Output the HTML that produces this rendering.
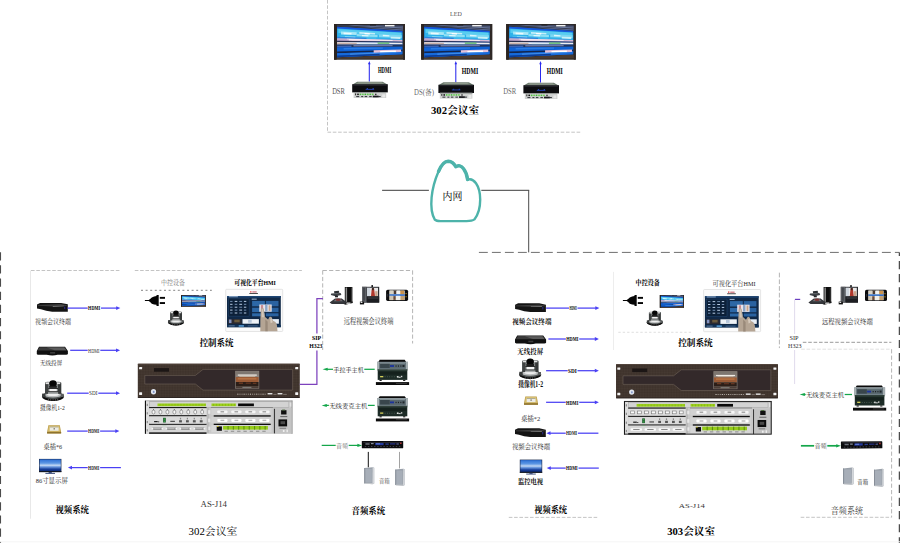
<!DOCTYPE html>
<html><head><meta charset="utf-8"><title>diagram</title><style>html,body{margin:0;padding:0;background:#fff;font-family:"Liberation Sans",sans-serif;}svg{display:block;position:absolute;left:0;top:0}svg text{font-family:"Liberation Serif","Noto Serif CJK SC",serif;fill:#000}</style></head><body><svg width="900" height="543" viewBox="0 0 900 543"><defs><linearGradient id="tvg" x1="0" y1="0" x2="0" y2="1"><stop offset="0" stop-color="#2c6fd6"/><stop offset="0.32" stop-color="#5d97e4"/><stop offset="0.5" stop-color="#c3d8f4"/><stop offset="0.62" stop-color="#6e9be0"/><stop offset="0.82" stop-color="#173f9c"/><stop offset="1" stop-color="#0e2a74"/></linearGradient><pattern id="rackg" width="1.6" height="1.6" patternUnits="userSpaceOnUse"><rect width="1.6" height="1.6" fill="#41352e"/><rect width="0.8" height="0.8" fill="#463a32"/><rect x="0.8" y="0.8" width="0.8" height="0.8" fill="#3d312b"/></pattern></defs><rect x="0" y="0" width="900" height="543" fill="#ffffff" />
<line x1="327.5" y1="0" x2="327.5" y2="132.2" stroke="#bdbdbd" stroke-width="0.9" stroke-dasharray="3.6 1.7" />
<line x1="327.5" y1="132.2" x2="581.7" y2="132.2" stroke="#bdbdbd" stroke-width="0.9" stroke-dasharray="3.6 1.7" />
<text x="450.1" y="15.6" font-size="6.7" textLength="11.7" lengthAdjust="spacingAndGlyphs" opacity="0.7">LED</text>
<g transform="translate(334 24) scale(1 1)">
<rect x="0" y="0" width="71" height="35.7" fill="#2a2521" />
<polygon points="2.5,0.8 69.5,0.8 69.5,7.2 3,2.6" fill="#343a4c" />
<polygon points="20,1.2 69,3.4 69,4.6 14,1.6" fill="#6f7ea6" />
<polygon points="30,1 69,1.9 69,2.8 34,1.5" fill="#56628a" />
<polygon points="38,3.4 69,5.4 69,6.4 30,3.4" fill="#5d6c98" />
<rect x="51" y="0.9" width="9.5" height="1.5" fill="#f4f4f4" />
<rect x="36" y="0.6" width="6" height="0.9" fill="#1c1a18" />
<polygon points="2.5,33.4 69.5,30.4 69.5,34.6 2.5,35" fill="#4a3b30" />
<polygon points="3.1,2.7 68.4,7.1 68.4,30.2 3.1,33.3" fill="#1762d6" />
<polygon points="3.1,2.7 68.4,7.1 68.4,8.49 3.1,4.54" fill="#1656dc" />
<polygon points="3.1,4.54 68.4,8.49 68.4,15.88 3.1,14.33" fill="#2fb2ea" />
<polygon points="4.41,5.22 67.09,8.87 67.09,11.66 4.41,8.88" fill="#59cdf0" />
<polygon points="7.02,7.49 22.69,8.27 22.69,11.11 7.02,10.5" fill="#a9e8f6" />
<polygon points="9.63,8.51 17.47,8.88 17.47,10.62 9.63,10.3" fill="#ecfafd" />
<polygon points="25.3,8.12 40.97,8.93 40.97,10.5 25.3,9.81" fill="#c4eef8" />
<polygon points="30.53,8.94 35.75,9.2 35.75,10.81 30.53,10.59" fill="#ffffff" />
<polygon points="22.69,9.97 43.59,10.88 43.59,13.21 22.69,12.52" fill="#8fe0f4" />
<polygon points="27.91,11.03 34.44,11.29 34.44,12.64 27.91,12.42" fill="#e4f8fc" />
<polygon points="44.89,10.16 67.75,11.23 67.75,14.01 44.89,13.26" fill="#7cd8f2" />
<polygon points="48.81,10.85 55.34,11.14 55.34,12.62 48.81,12.37" fill="#dff6fb" />
<polygon points="56.65,12.66 66.44,13.03 66.44,14.9 56.65,14.62" fill="#c9f0f8" />
<polygon points="6.37,11.69 42.28,12.91 42.28,14.74 6.37,13.8" fill="#48bfec" />
<polygon points="10.94,12.43 21.38,12.77 21.38,13.91 10.94,13.62" fill="#b8ecf8" />
<polygon points="3.1,12.8 32.49,13.66 32.49,15.03 3.1,14.33" fill="#2a86de" />
<polygon points="3.1,14.33 68.4,15.88 68.4,17.73 3.1,16.78" fill="#d8bad4" />
<polygon points="12.9,14.86 58.61,15.89 58.61,17.1 12.9,16.33" fill="#f6eaf0" />
<polygon points="3.1,15.25 14.85,15.48 14.85,16.95 3.1,16.78" fill="#b9a0c8" />
<polygon points="3.1,16.78 68.4,17.73 68.4,18.65 3.1,18" fill="#2a2e4c" />
<polygon points="3.1,18 68.4,18.65 68.4,20.5 3.1,20.45" fill="#efeff2" />
<polygon points="43.59,18.4 55.34,18.52 55.34,19.75 43.59,19.7" fill="#4fb562" />
<polygon points="3.1,18.61 22.69,18.76 22.69,20.46 3.1,20.45" fill="#cbb2aa" />
<polygon points="25.96,19.63 43.59,19.7 43.59,20.48 25.96,20.47" fill="#9fd8ee" />
<polygon points="3.1,20.45 68.4,20.5 68.4,22.81 3.1,23.51" fill="#24365e" />
<polygon points="19.43,21.04 58.61,20.98 58.61,22.19 19.43,22.47" fill="#6a78a6" />
<polygon points="3.1,21.67 17.47,21.62 17.47,23.06 3.1,23.2" fill="#3a64b8" />
<polygon points="3.1,23.51 68.4,22.81 68.4,25.81 3.1,27.49" fill="#0f62d6" />
<polygon points="9.63,24.03 48.81,23.52 48.81,24.79 9.63,25.53" fill="#2a7ce6" />
<polygon points="3.1,27.49 68.4,25.81 68.4,27.2 3.1,29.32" fill="#14264c" />
<polygon points="3.1,29.32 68.4,27.2 68.4,30.2 3.1,33.3" fill="#166ada" />
<polygon points="39.67,26.28 67.09,25.61 67.09,27.94 39.67,28.92" fill="#e4c2da" />
<polygon points="46.2,26.89 61.87,26.46 61.87,27.89 46.2,28.43" fill="#ffffff" />
<polygon points="16.16,29.48 61.87,27.89 61.87,29.08 16.16,30.93" fill="#3a8ae8" />
<polygon points="3.1,31.46 45.55,29.74 45.55,31.28 3.1,33.3" fill="#0b3c96" />
<rect x="0" y="0" width="2.6" height="35.7" fill="#2b2420" />
<rect x="69" y="0" width="2" height="35.7" fill="#2e2826" />
</g>
<g transform="translate(421.2 24) scale(1 1)">
<rect x="0" y="0" width="71" height="35.7" fill="#2a2521" />
<polygon points="2.5,0.8 69.5,0.8 69.5,7.2 3,2.6" fill="#343a4c" />
<polygon points="20,1.2 69,3.4 69,4.6 14,1.6" fill="#6f7ea6" />
<polygon points="30,1 69,1.9 69,2.8 34,1.5" fill="#56628a" />
<polygon points="38,3.4 69,5.4 69,6.4 30,3.4" fill="#5d6c98" />
<rect x="51" y="0.9" width="9.5" height="1.5" fill="#f4f4f4" />
<rect x="36" y="0.6" width="6" height="0.9" fill="#1c1a18" />
<polygon points="2.5,33.4 69.5,30.4 69.5,34.6 2.5,35" fill="#4a3b30" />
<polygon points="3.1,2.7 68.4,7.1 68.4,30.2 3.1,33.3" fill="#1762d6" />
<polygon points="3.1,2.7 68.4,7.1 68.4,8.49 3.1,4.54" fill="#1656dc" />
<polygon points="3.1,4.54 68.4,8.49 68.4,15.88 3.1,14.33" fill="#2fb2ea" />
<polygon points="4.41,5.22 67.09,8.87 67.09,11.66 4.41,8.88" fill="#59cdf0" />
<polygon points="7.02,7.49 22.69,8.27 22.69,11.11 7.02,10.5" fill="#a9e8f6" />
<polygon points="9.63,8.51 17.47,8.88 17.47,10.62 9.63,10.3" fill="#ecfafd" />
<polygon points="25.3,8.12 40.97,8.93 40.97,10.5 25.3,9.81" fill="#c4eef8" />
<polygon points="30.53,8.94 35.75,9.2 35.75,10.81 30.53,10.59" fill="#ffffff" />
<polygon points="22.69,9.97 43.59,10.88 43.59,13.21 22.69,12.52" fill="#8fe0f4" />
<polygon points="27.91,11.03 34.44,11.29 34.44,12.64 27.91,12.42" fill="#e4f8fc" />
<polygon points="44.89,10.16 67.75,11.23 67.75,14.01 44.89,13.26" fill="#7cd8f2" />
<polygon points="48.81,10.85 55.34,11.14 55.34,12.62 48.81,12.37" fill="#dff6fb" />
<polygon points="56.65,12.66 66.44,13.03 66.44,14.9 56.65,14.62" fill="#c9f0f8" />
<polygon points="6.37,11.69 42.28,12.91 42.28,14.74 6.37,13.8" fill="#48bfec" />
<polygon points="10.94,12.43 21.38,12.77 21.38,13.91 10.94,13.62" fill="#b8ecf8" />
<polygon points="3.1,12.8 32.49,13.66 32.49,15.03 3.1,14.33" fill="#2a86de" />
<polygon points="3.1,14.33 68.4,15.88 68.4,17.73 3.1,16.78" fill="#d8bad4" />
<polygon points="12.9,14.86 58.61,15.89 58.61,17.1 12.9,16.33" fill="#f6eaf0" />
<polygon points="3.1,15.25 14.85,15.48 14.85,16.95 3.1,16.78" fill="#b9a0c8" />
<polygon points="3.1,16.78 68.4,17.73 68.4,18.65 3.1,18" fill="#2a2e4c" />
<polygon points="3.1,18 68.4,18.65 68.4,20.5 3.1,20.45" fill="#efeff2" />
<polygon points="43.59,18.4 55.34,18.52 55.34,19.75 43.59,19.7" fill="#4fb562" />
<polygon points="3.1,18.61 22.69,18.76 22.69,20.46 3.1,20.45" fill="#cbb2aa" />
<polygon points="25.96,19.63 43.59,19.7 43.59,20.48 25.96,20.47" fill="#9fd8ee" />
<polygon points="3.1,20.45 68.4,20.5 68.4,22.81 3.1,23.51" fill="#24365e" />
<polygon points="19.43,21.04 58.61,20.98 58.61,22.19 19.43,22.47" fill="#6a78a6" />
<polygon points="3.1,21.67 17.47,21.62 17.47,23.06 3.1,23.2" fill="#3a64b8" />
<polygon points="3.1,23.51 68.4,22.81 68.4,25.81 3.1,27.49" fill="#0f62d6" />
<polygon points="9.63,24.03 48.81,23.52 48.81,24.79 9.63,25.53" fill="#2a7ce6" />
<polygon points="3.1,27.49 68.4,25.81 68.4,27.2 3.1,29.32" fill="#14264c" />
<polygon points="3.1,29.32 68.4,27.2 68.4,30.2 3.1,33.3" fill="#166ada" />
<polygon points="39.67,26.28 67.09,25.61 67.09,27.94 39.67,28.92" fill="#e4c2da" />
<polygon points="46.2,26.89 61.87,26.46 61.87,27.89 46.2,28.43" fill="#ffffff" />
<polygon points="16.16,29.48 61.87,27.89 61.87,29.08 16.16,30.93" fill="#3a8ae8" />
<polygon points="3.1,31.46 45.55,29.74 45.55,31.28 3.1,33.3" fill="#0b3c96" />
<rect x="0" y="0" width="2.6" height="35.7" fill="#2b2420" />
<rect x="69" y="0" width="2" height="35.7" fill="#2e2826" />
</g>
<g transform="translate(506.2 24) scale(0.98 1)">
<rect x="0" y="0" width="71" height="35.7" fill="#2a2521" />
<polygon points="2.5,0.8 69.5,0.8 69.5,7.2 3,2.6" fill="#343a4c" />
<polygon points="20,1.2 69,3.4 69,4.6 14,1.6" fill="#6f7ea6" />
<polygon points="30,1 69,1.9 69,2.8 34,1.5" fill="#56628a" />
<polygon points="38,3.4 69,5.4 69,6.4 30,3.4" fill="#5d6c98" />
<rect x="51" y="0.9" width="9.5" height="1.5" fill="#f4f4f4" />
<rect x="36" y="0.6" width="6" height="0.9" fill="#1c1a18" />
<polygon points="2.5,33.4 69.5,30.4 69.5,34.6 2.5,35" fill="#4a3b30" />
<polygon points="3.1,2.7 68.4,7.1 68.4,30.2 3.1,33.3" fill="#1762d6" />
<polygon points="3.1,2.7 68.4,7.1 68.4,8.49 3.1,4.54" fill="#1656dc" />
<polygon points="3.1,4.54 68.4,8.49 68.4,15.88 3.1,14.33" fill="#2fb2ea" />
<polygon points="4.41,5.22 67.09,8.87 67.09,11.66 4.41,8.88" fill="#59cdf0" />
<polygon points="7.02,7.49 22.69,8.27 22.69,11.11 7.02,10.5" fill="#a9e8f6" />
<polygon points="9.63,8.51 17.47,8.88 17.47,10.62 9.63,10.3" fill="#ecfafd" />
<polygon points="25.3,8.12 40.97,8.93 40.97,10.5 25.3,9.81" fill="#c4eef8" />
<polygon points="30.53,8.94 35.75,9.2 35.75,10.81 30.53,10.59" fill="#ffffff" />
<polygon points="22.69,9.97 43.59,10.88 43.59,13.21 22.69,12.52" fill="#8fe0f4" />
<polygon points="27.91,11.03 34.44,11.29 34.44,12.64 27.91,12.42" fill="#e4f8fc" />
<polygon points="44.89,10.16 67.75,11.23 67.75,14.01 44.89,13.26" fill="#7cd8f2" />
<polygon points="48.81,10.85 55.34,11.14 55.34,12.62 48.81,12.37" fill="#dff6fb" />
<polygon points="56.65,12.66 66.44,13.03 66.44,14.9 56.65,14.62" fill="#c9f0f8" />
<polygon points="6.37,11.69 42.28,12.91 42.28,14.74 6.37,13.8" fill="#48bfec" />
<polygon points="10.94,12.43 21.38,12.77 21.38,13.91 10.94,13.62" fill="#b8ecf8" />
<polygon points="3.1,12.8 32.49,13.66 32.49,15.03 3.1,14.33" fill="#2a86de" />
<polygon points="3.1,14.33 68.4,15.88 68.4,17.73 3.1,16.78" fill="#d8bad4" />
<polygon points="12.9,14.86 58.61,15.89 58.61,17.1 12.9,16.33" fill="#f6eaf0" />
<polygon points="3.1,15.25 14.85,15.48 14.85,16.95 3.1,16.78" fill="#b9a0c8" />
<polygon points="3.1,16.78 68.4,17.73 68.4,18.65 3.1,18" fill="#2a2e4c" />
<polygon points="3.1,18 68.4,18.65 68.4,20.5 3.1,20.45" fill="#efeff2" />
<polygon points="43.59,18.4 55.34,18.52 55.34,19.75 43.59,19.7" fill="#4fb562" />
<polygon points="3.1,18.61 22.69,18.76 22.69,20.46 3.1,20.45" fill="#cbb2aa" />
<polygon points="25.96,19.63 43.59,19.7 43.59,20.48 25.96,20.47" fill="#9fd8ee" />
<polygon points="3.1,20.45 68.4,20.5 68.4,22.81 3.1,23.51" fill="#24365e" />
<polygon points="19.43,21.04 58.61,20.98 58.61,22.19 19.43,22.47" fill="#6a78a6" />
<polygon points="3.1,21.67 17.47,21.62 17.47,23.06 3.1,23.2" fill="#3a64b8" />
<polygon points="3.1,23.51 68.4,22.81 68.4,25.81 3.1,27.49" fill="#0f62d6" />
<polygon points="9.63,24.03 48.81,23.52 48.81,24.79 9.63,25.53" fill="#2a7ce6" />
<polygon points="3.1,27.49 68.4,25.81 68.4,27.2 3.1,29.32" fill="#14264c" />
<polygon points="3.1,29.32 68.4,27.2 68.4,30.2 3.1,33.3" fill="#166ada" />
<polygon points="39.67,26.28 67.09,25.61 67.09,27.94 39.67,28.92" fill="#e4c2da" />
<polygon points="46.2,26.89 61.87,26.46 61.87,27.89 46.2,28.43" fill="#ffffff" />
<polygon points="16.16,29.48 61.87,27.89 61.87,29.08 16.16,30.93" fill="#3a8ae8" />
<polygon points="3.1,31.46 45.55,29.74 45.55,31.28 3.1,33.3" fill="#0b3c96" />
<rect x="0" y="0" width="2.6" height="35.7" fill="#2b2420" />
<rect x="69" y="0" width="2" height="35.7" fill="#2e2826" />
</g>
<line x1="369.3" y1="63" x2="369.3" y2="81.6" stroke="#2a2aee" stroke-width="1.05" />
<polygon points="369.3,61 368.05,64.2 370.55,64.2" fill="#2a2aee" />
<line x1="455.8" y1="63" x2="455.8" y2="82.2" stroke="#2a2aee" stroke-width="1.05" />
<polygon points="455.8,61 454.55,64.2 457.05,64.2" fill="#2a2aee" />
<line x1="540.5" y1="63" x2="540.5" y2="82.6" stroke="#2a2aee" stroke-width="1.05" />
<polygon points="540.5,61 539.25,64.2 541.75,64.2" fill="#2a2aee" />
<text x="377.9" y="72.75" font-size="7.56" font-weight="bold" textLength="13.4" lengthAdjust="spacingAndGlyphs">HDMI</text>
<text x="461.83" y="73.56" font-size="7.33" font-weight="bold" textLength="16.4" lengthAdjust="spacingAndGlyphs">HDMI</text>
<text x="546.82" y="73.56" font-size="7.33" font-weight="bold" textLength="16" lengthAdjust="spacingAndGlyphs">HDMI</text>
<g transform="translate(352.2 81.4)">
<polygon points="5,0.3 30.5,0.3 35.2,3 0.3,3" fill="#6c7a6e" />
<polygon points="6.5,0.9 29,0.9 32,2.4 3.5,2.4" fill="#8f9a8c" />
<rect x="0" y="2.8" width="35.6" height="8.2" fill="#0d0d10" />
<rect x="1" y="3.4" width="33.6" height="0.7" fill="#34343c" />
<rect x="13.4" y="7.5" width="8.6" height="0.9" fill="#2344b8" />
<rect x="14.5" y="6.8" width="1.3" height="0.8" fill="#2c50c8" />
<rect x="20.3" y="6.8" width="1.3" height="0.8" fill="#2c50c8" />
<rect x="1.4" y="10.8" width="32.6" height="5.8" fill="#cfd1d0" />
<rect x="1.4" y="10.8" width="32.6" height="0.8" fill="#8e9290" />
<rect x="5" y="12.2" width="1.6" height="1.5" fill="#111" />
<rect x="7.45" y="12.2" width="1.6" height="1.5" fill="#49c23c" />
<rect x="9.9" y="12.2" width="1.6" height="1.5" fill="#5ed048" />
<rect x="12.35" y="12.2" width="1.6" height="1.5" fill="#3fb83a" />
<rect x="14.8" y="12.2" width="1.6" height="1.5" fill="#5ed048" />
<rect x="17.25" y="12.2" width="1.6" height="1.5" fill="#49c23c" />
<rect x="19.7" y="12.2" width="1.6" height="1.5" fill="#5ed048" />
<rect x="3" y="12" width="0.9" height="1.9" fill="#111" />
<rect x="23" y="12.3" width="1.2" height="1.4" fill="#111" />
<rect x="4" y="14.6" width="3" height="1.1" fill="#3b3d44" />
<rect x="9" y="14.6" width="2" height="1.1" fill="#3b3d44" />
<rect x="12.5" y="14.6" width="2.5" height="1.1" fill="#3b3d44" />
<rect x="17" y="14.6" width="2.5" height="1.1" fill="#3b3d44" />
<rect x="21" y="14.6" width="4" height="1.1" fill="#3b3d44" />
<rect x="26" y="14.6" width="2.5" height="1.1" fill="#3b3d44" />
<rect x="20.6" y="14.3" width="5.8" height="1.6" fill="#1a1a1e" />
<rect x="30" y="13" width="3" height="3" fill="#e9e9e9" />
</g>
<g transform="translate(438.4 82)">
<polygon points="5,0.3 30.5,0.3 35.2,3 0.3,3" fill="#6c7a6e" />
<polygon points="6.5,0.9 29,0.9 32,2.4 3.5,2.4" fill="#8f9a8c" />
<rect x="0" y="2.8" width="35.6" height="8.2" fill="#0d0d10" />
<rect x="1" y="3.4" width="33.6" height="0.7" fill="#34343c" />
<rect x="13.4" y="7.5" width="8.6" height="0.9" fill="#2344b8" />
<rect x="14.5" y="6.8" width="1.3" height="0.8" fill="#2c50c8" />
<rect x="20.3" y="6.8" width="1.3" height="0.8" fill="#2c50c8" />
<rect x="1.4" y="10.8" width="32.6" height="5.8" fill="#cfd1d0" />
<rect x="1.4" y="10.8" width="32.6" height="0.8" fill="#8e9290" />
<rect x="5" y="12.2" width="1.6" height="1.5" fill="#111" />
<rect x="7.45" y="12.2" width="1.6" height="1.5" fill="#49c23c" />
<rect x="9.9" y="12.2" width="1.6" height="1.5" fill="#5ed048" />
<rect x="12.35" y="12.2" width="1.6" height="1.5" fill="#3fb83a" />
<rect x="14.8" y="12.2" width="1.6" height="1.5" fill="#5ed048" />
<rect x="17.25" y="12.2" width="1.6" height="1.5" fill="#49c23c" />
<rect x="19.7" y="12.2" width="1.6" height="1.5" fill="#5ed048" />
<rect x="3" y="12" width="0.9" height="1.9" fill="#111" />
<rect x="23" y="12.3" width="1.2" height="1.4" fill="#111" />
<rect x="4" y="14.6" width="3" height="1.1" fill="#3b3d44" />
<rect x="9" y="14.6" width="2" height="1.1" fill="#3b3d44" />
<rect x="12.5" y="14.6" width="2.5" height="1.1" fill="#3b3d44" />
<rect x="17" y="14.6" width="2.5" height="1.1" fill="#3b3d44" />
<rect x="21" y="14.6" width="4" height="1.1" fill="#3b3d44" />
<rect x="26" y="14.6" width="2.5" height="1.1" fill="#3b3d44" />
<rect x="20.6" y="14.3" width="5.8" height="1.6" fill="#1a1a1e" />
<rect x="30" y="13" width="3" height="3" fill="#e9e9e9" />
</g>
<g transform="translate(523.4 82.4)">
<polygon points="5,0.3 30.5,0.3 35.2,3 0.3,3" fill="#6c7a6e" />
<polygon points="6.5,0.9 29,0.9 32,2.4 3.5,2.4" fill="#8f9a8c" />
<rect x="0" y="2.8" width="35.6" height="8.2" fill="#0d0d10" />
<rect x="1" y="3.4" width="33.6" height="0.7" fill="#34343c" />
<rect x="13.4" y="7.5" width="8.6" height="0.9" fill="#2344b8" />
<rect x="14.5" y="6.8" width="1.3" height="0.8" fill="#2c50c8" />
<rect x="20.3" y="6.8" width="1.3" height="0.8" fill="#2c50c8" />
<rect x="1.4" y="10.8" width="32.6" height="5.8" fill="#cfd1d0" />
<rect x="1.4" y="10.8" width="32.6" height="0.8" fill="#8e9290" />
<rect x="5" y="12.2" width="1.6" height="1.5" fill="#111" />
<rect x="7.45" y="12.2" width="1.6" height="1.5" fill="#49c23c" />
<rect x="9.9" y="12.2" width="1.6" height="1.5" fill="#5ed048" />
<rect x="12.35" y="12.2" width="1.6" height="1.5" fill="#3fb83a" />
<rect x="14.8" y="12.2" width="1.6" height="1.5" fill="#5ed048" />
<rect x="17.25" y="12.2" width="1.6" height="1.5" fill="#49c23c" />
<rect x="19.7" y="12.2" width="1.6" height="1.5" fill="#5ed048" />
<rect x="3" y="12" width="0.9" height="1.9" fill="#111" />
<rect x="23" y="12.3" width="1.2" height="1.4" fill="#111" />
<rect x="4" y="14.6" width="3" height="1.1" fill="#3b3d44" />
<rect x="9" y="14.6" width="2" height="1.1" fill="#3b3d44" />
<rect x="12.5" y="14.6" width="2.5" height="1.1" fill="#3b3d44" />
<rect x="17" y="14.6" width="2.5" height="1.1" fill="#3b3d44" />
<rect x="21" y="14.6" width="4" height="1.1" fill="#3b3d44" />
<rect x="26" y="14.6" width="2.5" height="1.1" fill="#3b3d44" />
<rect x="20.6" y="14.3" width="5.8" height="1.6" fill="#1a1a1e" />
<rect x="30" y="13" width="3" height="3" fill="#e9e9e9" />
</g>
<text x="332.13" y="94.16" font-size="7.33" textLength="12.7" lengthAdjust="spacingAndGlyphs" opacity="0.7">DSR</text>
<text x="414.11" y="94.52" font-size="8" textLength="20" lengthAdjust="spacingAndGlyphs" opacity="0.62">DS(备)</text>
<text x="503.13" y="94.35" font-size="7.56" textLength="13" lengthAdjust="spacingAndGlyphs" opacity="0.62">DSR</text>
<text x="430.96" y="114.37" font-size="10.44" font-weight="bold" textLength="48.2" lengthAdjust="spacingAndGlyphs">302会议室</text>
<line x1="382.1" y1="190.3" x2="428.9" y2="190.3" stroke="#3c3c3c" stroke-width="1" />
<line x1="481.3" y1="190.3" x2="529.2" y2="190.3" stroke="#3c3c3c" stroke-width="1" />
<line x1="528.7" y1="190.3" x2="528.7" y2="252.4" stroke="#4a4a4a" stroke-width="1" />
<path d="M434.8,219.6 C431.5,214 430.9,205 431.6,197.5 C432.4,189 435,179.5 438.5,171.5 C441,165.5 444.2,161.2 448.2,161.2 C451.6,161.3 454,163.2 455.8,166.8 C458.2,164.8 461.4,165.6 463.4,168.4 C465.8,171.6 467.2,175.2 467.6,179.6 C470.2,178.6 473.6,179.8 476,183.2 C478.8,187.2 480.2,193.4 480.2,199.6 C480.2,207.2 478.4,214.6 474.4,219.4 C472.6,220.8 470,221.1 466.5,221.1 L440.5,221.1 C438,221.1 436,220.8 434.8,219.6 Z" fill="#ffffff" stroke="#4db3aa" stroke-width="2.4" stroke-linejoin="round"/>
<path d="M438.5,171.5 C441,165.5 444.2,161.2 448.2,161.2 C451.6,161.3 454,163.2 455.8,166.8 C458.2,164.8 461.4,165.6 463.4,168.4 C465.8,171.6 467.2,175.2 467.6,179.6" fill="none" stroke="#4db3aa" stroke-width="3.4" stroke-linejoin="round" stroke-linecap="round"/>
<text x="442.6" y="200.17" font-size="10.44" textLength="19.9" lengthAdjust="spacingAndGlyphs">内网</text>
<line x1="478.9" y1="252.4" x2="899.5" y2="252.4" stroke="#6e6e6e" stroke-width="1" stroke-dasharray="8.9 4.1" />
<line x1="0.5" y1="252.2" x2="0.5" y2="543" stroke="#4c4c4c" stroke-width="1.1" stroke-dasharray="8.2 4.96" />
<line x1="899.4" y1="252.4" x2="899.4" y2="543" stroke="#4c4c4c" stroke-width="1.3" stroke-dasharray="8.2 4.96" stroke-dashoffset="4.6"/>
<line x1="0" y1="541.8" x2="900" y2="541.8" stroke="#f6f6f6" stroke-width="1" />
<line x1="31" y1="270.5" x2="120" y2="270.5" stroke="#bdbdbd" stroke-width="0.9" stroke-dasharray="3.6 1.7" />
<line x1="30.5" y1="270.5" x2="30.5" y2="518.7" stroke="#e8e8e8" stroke-width="1" />
<g transform="translate(36.8 302.8)">
<path d="M0.2,1.6 L3.2,0.1 L24.4,0.1 L31,1.5 L31,8.9 L15.4,8.9 Q9,8.2 4.2,6.5 L0.2,5.7 Z" fill="#141414" />
<path d="M1,2.2 L24,1.2 L30,2.4 L30,3.1 L16,3.6 L1,3 Z" fill="#3c3c3c" />
<path d="M16,3.3 L27,2.9 L27,3.5 L16,3.9Z" fill="#8a8a8a" />
<rect x="27.5" y="3.8" width="0.9" height="2.4" fill="#2b2b98" />
</g>
<line x1="67.6" y1="308.1" x2="87.7" y2="308.1" stroke="#4a40f4" stroke-width="1.25" />
<line x1="100.9" y1="308.1" x2="117.64" y2="308.1" stroke="#4a40f4" stroke-width="1.25" />
<text x="88.09" y="310.33" font-size="6.22" font-weight="bold" textLength="12" lengthAdjust="spacingAndGlyphs">HDMI</text>
<polygon points="120.3,308.1 116.2,306.2 116.2,310" fill="#4a40f4" />
<text x="35" y="323.79" font-size="6.89" textLength="36.1" lengthAdjust="spacingAndGlyphs" opacity="0.86">视频会议终端</text>
<g transform="translate(36.6 346.7)">
<path d="M2.4,0.1 L28.4,0.1 L31.3,4.2 L31.3,7.3 Q31,8 29.5,8 L21,8 Q16,9.6 10,8 L1.6,8 Q0.2,8 0.2,7.2 L0.2,4.2 Z" fill="#101010" />
<path d="M3,0.6 L28,0.6 L30.3,3.9 L1,3.9 Z" fill="#3a3a3a" />
<path d="M10,0.8 L27.6,0.8 L29.6,3.5 L18,3.5 Z" fill="#5a5a5a" />
<rect x="13.5" y="5.3" width="5" height="1.6" fill="#3a3a3a" />
</g>
<line x1="70.2" y1="350.3" x2="87.7" y2="350.3" stroke="#4a40f4" stroke-width="1.25" />
<line x1="100.3" y1="350.3" x2="117.44" y2="350.3" stroke="#4a40f4" stroke-width="1.25" />
<text x="88.09" y="352.53" font-size="6.22" textLength="11.4" lengthAdjust="spacingAndGlyphs" opacity="0.85">HDMI</text>
<polygon points="120.1,350.3 116,348.4 116,352.2" fill="#4a40f4" />
<text x="40" y="364.83" font-size="6.22" textLength="22.2" lengthAdjust="spacingAndGlyphs" opacity="0.86">无线投屏</text>
<g transform="translate(41.8 380.2) scale(1)">
<ellipse cx="11.2" cy="16.4" rx="11.1" ry="4.3" fill="#161616" />
<ellipse cx="11.2" cy="15.3" rx="10.8" ry="3.5" fill="#4e5252" />
<ellipse cx="11.2" cy="14.9" rx="8.6" ry="2.5" fill="#b9bcbc" />
<ellipse cx="11.2" cy="14.4" rx="6" ry="1.5" fill="#eeeeee" />
<path d="M1.0,16.4 Q11.2,22.4 21.4,16.4 L21.4,17.6 Q11.2,24 1.0,17.6Z" fill="#0c0c0c" />
<rect x="6.2" y="19.3" width="0.9" height="0.8" fill="#9a9a9a" />
<rect x="8.5" y="19.3" width="0.9" height="0.8" fill="#9a9a9a" />
<rect x="10.8" y="19.3" width="0.9" height="0.8" fill="#9a9a9a" />
<rect x="13.1" y="19.3" width="0.9" height="0.8" fill="#9a9a9a" />
<rect x="15.4" y="19.3" width="0.9" height="0.8" fill="#9a9a9a" />
<rect x="0.3" y="13.4" width="3.4" height="3.6" fill="#3a3d3d" />
<rect x="18.8" y="13.6" width="3.2" height="3.2" fill="#5a5d5d" />
<path d="M3.2,3.4 Q3.2,1.6 5.2,1.6 L17.4,1.6 Q19.4,1.6 19.4,3.4 L19.4,13.6 L3.2,13.6 Z" fill="#7c8080" />
<rect x="3.2" y="2.4" width="3.2" height="11.2" fill="#3f4242" />
<rect x="16.2" y="2.4" width="3.2" height="11.2" fill="#363939" />
<rect x="3.8" y="2.2" width="3.4" height="1.7" fill="#e2e2e2" />
<rect x="14.8" y="2.2" width="3.6" height="1.7" fill="#e2e2e2" />
<ellipse cx="11.2" cy="3.4" rx="3.7" ry="3.4" fill="#060606" />
<rect x="7.4" y="5.6" width="7.6" height="2" fill="#1c1c1c" />
<rect x="7.6" y="8.6" width="7.4" height="2.6" fill="#f4f4f4" />
<rect x="6.4" y="7.8" width="9.8" height="0.8" fill="#161616" />
<rect x="6.4" y="11.2" width="9.8" height="0.8" fill="#161616" />
<rect x="6.2" y="12.2" width="10.2" height="1.5" fill="#a9acac" />
</g>
<line x1="67.2" y1="393.2" x2="88.7" y2="393.2" stroke="#4a40f4" stroke-width="1.25" />
<line x1="98.3" y1="393.2" x2="117.44" y2="393.2" stroke="#4a40f4" stroke-width="1.25" />
<text x="89.09" y="395.43" font-size="6.22" textLength="8.4" lengthAdjust="spacingAndGlyphs" opacity="0.85">SDI</text>
<polygon points="120.1,393.2 116,391.3 116,395.1" fill="#4a40f4" />
<text x="40" y="409.6" font-size="6.67" textLength="24.8" lengthAdjust="spacingAndGlyphs" opacity="0.86">摄像机1-2</text>
<g transform="translate(47 424.9)">
<path d="M1.4,0.4 L12.8,0.4 L14.1,7.4 L14.1,8.5 L0.1,8.5 L0.1,7.4 Z" fill="#b89a48" />
<path d="M1.8,0.9 L12.4,0.9 L13.2,6.6 L1,6.6 Z" fill="#d9c070" />
<rect x="2.8" y="1.8" width="8.8" height="4.1" fill="#ecebe4" />
<rect x="2.8" y="1.8" width="8.8" height="0.6" fill="#8c845c" />
<rect x="6.6" y="3.2" width="1.2" height="1.4" fill="#6f6a58" />
<rect x="0.1" y="7.2" width="14" height="1.3" fill="#8a6f2c" />
</g>
<line x1="67.2" y1="431.1" x2="87.7" y2="431.1" stroke="#4a40f4" stroke-width="1.25" />
<line x1="100.1" y1="431.1" x2="116.74" y2="431.1" stroke="#4a40f4" stroke-width="1.25" />
<text x="88.09" y="433.33" font-size="6.22" font-weight="bold" textLength="11.2" lengthAdjust="spacingAndGlyphs" opacity="0.9">HDMI</text>
<polygon points="119.4,431.1 115.3,429.2 115.3,433" fill="#4a40f4" />
<text x="43.6" y="449.01" font-size="6.44" textLength="18.5" lengthAdjust="spacingAndGlyphs" opacity="0.86">桌插*6</text>
<g transform="translate(39 458.9)">
<rect x="0" y="0" width="22.4" height="13.2" fill="#1b2a4a" />
<rect x="0.6" y="0.5" width="21.2" height="11.9" fill="url(#tvg)" />
<rect x="0" y="12.2" width="22.4" height="1" fill="#15181f" />
<rect x="9.6" y="13.2" width="3.2" height="1" fill="#2c3f73" />
<rect x="6.4" y="14" width="9.6" height="0.9" fill="#2a3d6e" />
</g>
<line x1="70.56" y1="467.6" x2="87.7" y2="467.6" stroke="#4a40f4" stroke-width="1.25" />
<line x1="100.1" y1="467.6" x2="120.9" y2="467.6" stroke="#4a40f4" stroke-width="1.25" />
<text x="88.09" y="469.83" font-size="6.22" font-weight="bold" textLength="11.2" lengthAdjust="spacingAndGlyphs" opacity="0.9">HDMI</text>
<polygon points="67.9,467.6 72,465.7 72,469.5" fill="#4a40f4" />
<text x="35.7" y="483.4" font-size="6.67" textLength="32.2" lengthAdjust="spacingAndGlyphs" opacity="0.86">86寸显示屏</text>
<text x="55.5" y="513.03" font-size="9.56" font-weight="bold" textLength="33.4" lengthAdjust="spacingAndGlyphs">视频系统</text>
<line x1="134.8" y1="270.5" x2="301.9" y2="270.5" stroke="#bdbdbd" stroke-width="0.9" stroke-dasharray="3.6 1.7" />
<text x="161" y="284.81" font-size="6.44" textLength="24" lengthAdjust="spacingAndGlyphs" opacity="0.55">中控设备</text>
<line x1="141" y1="290.3" x2="211.8" y2="290.3" stroke="#666666" stroke-width="0.8" stroke-dasharray="2.0 2.6" />
<g transform="translate(144.9 295)">
<path d="M0,4.9 L3.8,4.9 L5.2,4.0 Q6.6,2.0 9.2,1.5 L11.6,1.1 L11.6,0 L13.8,0 L13.8,10.9 L11.6,10.9 L11.6,9.8 L9.2,9.4 Q6.6,8.9 5.2,6.9 L3.8,6.1 L0,6.1 Z" fill="#050505" />
<rect x="14.9" y="1.9" width="5.2" height="1.9" fill="#050505" />
<rect x="14.9" y="7.1" width="5.2" height="1.9" fill="#050505" />
</g>
<g transform="translate(181 295) scale(0.35 0.33)">
<rect x="0" y="0" width="71" height="35.7" fill="#2a2521" />
<polygon points="2.5,0.8 69.5,0.8 69.5,7.2 3,2.6" fill="#343a4c" />
<polygon points="20,1.2 69,3.4 69,4.6 14,1.6" fill="#6f7ea6" />
<polygon points="30,1 69,1.9 69,2.8 34,1.5" fill="#56628a" />
<polygon points="38,3.4 69,5.4 69,6.4 30,3.4" fill="#5d6c98" />
<rect x="51" y="0.9" width="9.5" height="1.5" fill="#f4f4f4" />
<rect x="36" y="0.6" width="6" height="0.9" fill="#1c1a18" />
<polygon points="2.5,33.4 69.5,30.4 69.5,34.6 2.5,35" fill="#4a3b30" />
<polygon points="3.1,2.7 68.4,7.1 68.4,30.2 3.1,33.3" fill="#1762d6" />
<polygon points="3.1,2.7 68.4,7.1 68.4,8.49 3.1,4.54" fill="#1656dc" />
<polygon points="3.1,4.54 68.4,8.49 68.4,15.88 3.1,14.33" fill="#2fb2ea" />
<polygon points="4.41,5.22 67.09,8.87 67.09,11.66 4.41,8.88" fill="#59cdf0" />
<polygon points="7.02,7.49 22.69,8.27 22.69,11.11 7.02,10.5" fill="#a9e8f6" />
<polygon points="9.63,8.51 17.47,8.88 17.47,10.62 9.63,10.3" fill="#ecfafd" />
<polygon points="25.3,8.12 40.97,8.93 40.97,10.5 25.3,9.81" fill="#c4eef8" />
<polygon points="30.53,8.94 35.75,9.2 35.75,10.81 30.53,10.59" fill="#ffffff" />
<polygon points="22.69,9.97 43.59,10.88 43.59,13.21 22.69,12.52" fill="#8fe0f4" />
<polygon points="27.91,11.03 34.44,11.29 34.44,12.64 27.91,12.42" fill="#e4f8fc" />
<polygon points="44.89,10.16 67.75,11.23 67.75,14.01 44.89,13.26" fill="#7cd8f2" />
<polygon points="48.81,10.85 55.34,11.14 55.34,12.62 48.81,12.37" fill="#dff6fb" />
<polygon points="56.65,12.66 66.44,13.03 66.44,14.9 56.65,14.62" fill="#c9f0f8" />
<polygon points="6.37,11.69 42.28,12.91 42.28,14.74 6.37,13.8" fill="#48bfec" />
<polygon points="10.94,12.43 21.38,12.77 21.38,13.91 10.94,13.62" fill="#b8ecf8" />
<polygon points="3.1,12.8 32.49,13.66 32.49,15.03 3.1,14.33" fill="#2a86de" />
<polygon points="3.1,14.33 68.4,15.88 68.4,17.73 3.1,16.78" fill="#d8bad4" />
<polygon points="12.9,14.86 58.61,15.89 58.61,17.1 12.9,16.33" fill="#f6eaf0" />
<polygon points="3.1,15.25 14.85,15.48 14.85,16.95 3.1,16.78" fill="#b9a0c8" />
<polygon points="3.1,16.78 68.4,17.73 68.4,18.65 3.1,18" fill="#2a2e4c" />
<polygon points="3.1,18 68.4,18.65 68.4,20.5 3.1,20.45" fill="#efeff2" />
<polygon points="43.59,18.4 55.34,18.52 55.34,19.75 43.59,19.7" fill="#4fb562" />
<polygon points="3.1,18.61 22.69,18.76 22.69,20.46 3.1,20.45" fill="#cbb2aa" />
<polygon points="25.96,19.63 43.59,19.7 43.59,20.48 25.96,20.47" fill="#9fd8ee" />
<polygon points="3.1,20.45 68.4,20.5 68.4,22.81 3.1,23.51" fill="#24365e" />
<polygon points="19.43,21.04 58.61,20.98 58.61,22.19 19.43,22.47" fill="#6a78a6" />
<polygon points="3.1,21.67 17.47,21.62 17.47,23.06 3.1,23.2" fill="#3a64b8" />
<polygon points="3.1,23.51 68.4,22.81 68.4,25.81 3.1,27.49" fill="#0f62d6" />
<polygon points="9.63,24.03 48.81,23.52 48.81,24.79 9.63,25.53" fill="#2a7ce6" />
<polygon points="3.1,27.49 68.4,25.81 68.4,27.2 3.1,29.32" fill="#14264c" />
<polygon points="3.1,29.32 68.4,27.2 68.4,30.2 3.1,33.3" fill="#166ada" />
<polygon points="39.67,26.28 67.09,25.61 67.09,27.94 39.67,28.92" fill="#e4c2da" />
<polygon points="46.2,26.89 61.87,26.46 61.87,27.89 46.2,28.43" fill="#ffffff" />
<polygon points="16.16,29.48 61.87,27.89 61.87,29.08 16.16,30.93" fill="#3a8ae8" />
<polygon points="3.1,31.46 45.55,29.74 45.55,31.28 3.1,33.3" fill="#0b3c96" />
<rect x="0" y="0" width="2.6" height="35.7" fill="#2b2420" />
<rect x="69" y="0" width="2" height="35.7" fill="#2e2826" />
</g>
<g transform="translate(167.8 310.4) scale(0.73)">
<ellipse cx="11.2" cy="16.4" rx="11.1" ry="4.3" fill="#161616" />
<ellipse cx="11.2" cy="15.3" rx="10.8" ry="3.5" fill="#4e5252" />
<ellipse cx="11.2" cy="14.9" rx="8.6" ry="2.5" fill="#b9bcbc" />
<ellipse cx="11.2" cy="14.4" rx="6" ry="1.5" fill="#eeeeee" />
<path d="M1.0,16.4 Q11.2,22.4 21.4,16.4 L21.4,17.6 Q11.2,24 1.0,17.6Z" fill="#0c0c0c" />
<rect x="6.2" y="19.3" width="0.9" height="0.8" fill="#9a9a9a" />
<rect x="8.5" y="19.3" width="0.9" height="0.8" fill="#9a9a9a" />
<rect x="10.8" y="19.3" width="0.9" height="0.8" fill="#9a9a9a" />
<rect x="13.1" y="19.3" width="0.9" height="0.8" fill="#9a9a9a" />
<rect x="15.4" y="19.3" width="0.9" height="0.8" fill="#9a9a9a" />
<rect x="0.3" y="13.4" width="3.4" height="3.6" fill="#3a3d3d" />
<rect x="18.8" y="13.6" width="3.2" height="3.2" fill="#5a5d5d" />
<path d="M3.2,3.4 Q3.2,1.6 5.2,1.6 L17.4,1.6 Q19.4,1.6 19.4,3.4 L19.4,13.6 L3.2,13.6 Z" fill="#7c8080" />
<rect x="3.2" y="2.4" width="3.2" height="11.2" fill="#3f4242" />
<rect x="16.2" y="2.4" width="3.2" height="11.2" fill="#363939" />
<rect x="3.8" y="2.2" width="3.4" height="1.7" fill="#e2e2e2" />
<rect x="14.8" y="2.2" width="3.6" height="1.7" fill="#e2e2e2" />
<ellipse cx="11.2" cy="3.4" rx="3.7" ry="3.4" fill="#060606" />
<rect x="7.4" y="5.6" width="7.6" height="2" fill="#1c1c1c" />
<rect x="7.6" y="8.6" width="7.4" height="2.6" fill="#f4f4f4" />
<rect x="6.4" y="7.8" width="9.8" height="0.8" fill="#161616" />
<rect x="6.4" y="11.2" width="9.8" height="0.8" fill="#161616" />
<rect x="6.2" y="12.2" width="10.2" height="1.5" fill="#a9acac" />
</g>
<text x="234.3" y="285.39" font-size="6.89" font-weight="bold" textLength="41.5" lengthAdjust="spacingAndGlyphs">可视化平台HMI</text>
<g transform="translate(225.7 289.3)">
<rect x="0" y="0" width="57" height="42.2" fill="#fbfbfb" stroke="#d5d5d5" stroke-width="0.6" rx="0.8"/>
<rect x="24.4" y="2" width="1.4" height="1.2" fill="#e03030" />
<rect x="26.6" y="2.2" width="4.4" height="0.9" fill="#c04050" />
<rect x="23.6" y="3.8" width="8.6" height="0.9" fill="#3a3a3a" />
<rect x="1.3" y="6.7" width="53.8" height="31.2" fill="#102846" />
<rect x="1.3" y="6.7" width="53.8" height="1.6" fill="#1c4472" />
<rect x="3.2" y="7" width="9" height="0.9" fill="#9fb8d6" />
<rect x="2.8" y="9.6" width="20.6" height="17.2" fill="#0c2038" stroke="#28507c" stroke-width="0.4"/>
<rect x="4.4" y="11.6" width="2.4" height="1" fill="#6f8cb0" />
<rect x="9" y="11.6" width="2.6" height="1" fill="#b8cbe2" />
<rect x="13.6" y="11.6" width="2.8" height="1" fill="#6f8cb0" />
<rect x="18.2" y="11.6" width="2.4" height="1" fill="#b8cbe2" />
<rect x="4.4" y="14.5" width="2.4" height="1" fill="#b8cbe2" />
<rect x="9" y="14.5" width="2.6" height="1" fill="#6f8cb0" />
<rect x="13.6" y="14.5" width="2.8" height="1" fill="#b8cbe2" />
<rect x="18.2" y="14.5" width="2.4" height="1" fill="#6f8cb0" />
<rect x="4.4" y="17.4" width="2.4" height="1" fill="#6f8cb0" />
<rect x="9" y="17.4" width="2.6" height="1" fill="#b8cbe2" />
<rect x="13.6" y="17.4" width="2.8" height="1" fill="#6f8cb0" />
<rect x="18.2" y="17.4" width="2.4" height="1" fill="#b8cbe2" />
<rect x="4.4" y="20.3" width="2.4" height="1" fill="#b8cbe2" />
<rect x="9" y="20.3" width="2.6" height="1" fill="#6f8cb0" />
<rect x="13.6" y="20.3" width="2.8" height="1" fill="#b8cbe2" />
<rect x="18.2" y="20.3" width="2.4" height="1" fill="#6f8cb0" />
<rect x="4.4" y="23.2" width="2.4" height="1" fill="#6f8cb0" />
<rect x="9" y="23.2" width="2.6" height="1" fill="#b8cbe2" />
<rect x="13.6" y="23.2" width="2.8" height="1" fill="#6f8cb0" />
<rect x="18.2" y="23.2" width="2.4" height="1" fill="#b8cbe2" />
<rect x="26.4" y="11.6" width="12.8" height="5.4" fill="#2d68a6" />
<rect x="40.2" y="11.6" width="12.6" height="5.4" fill="#2a62a0" />
<rect x="26.4" y="18.4" width="12.8" height="4.4" fill="#2d68a6" />
<rect x="40.2" y="18.4" width="12.6" height="4.4" fill="#2a62a0" />
<rect x="26.4" y="24" width="12.8" height="3" fill="#2d68a6" />
<rect x="40.2" y="24" width="12.6" height="3" fill="#2a62a0" />
<rect x="26" y="9.4" width="5" height="0.9" fill="#b9cde4" />
<rect x="33.6" y="15.2" width="12.4" height="7.2" fill="#e9e4ea" />
<rect x="35.2" y="15.8" width="2.2" height="6" fill="#c98a90" />
<rect x="39.4" y="15.6" width="2.4" height="6.4" fill="#8aa6c8" />
<rect x="43" y="16" width="1.8" height="5.6" fill="#c7a58a" />
<rect x="2.6" y="29.8" width="13.4" height="4.8" fill="#2b2a30" />
<rect x="3.2" y="30.2" width="2.6" height="3.6" fill="#8494c2" />
<rect x="8.6" y="30.4" width="5.4" height="2.6" fill="#6a5a3c" />
<rect x="16.8" y="29.8" width="16.4" height="4.6" fill="#eef2f6" />
<rect x="22.4" y="30.4" width="3.6" height="3" fill="#b6c6da" />
<rect x="45.2" y="29.8" width="8" height="4.6" fill="#e8eef6" />
<rect x="1.3" y="35.6" width="53.8" height="2.3" fill="#123256" />
<rect x="13" y="35.9" width="5.2" height="1.5" fill="#5aa0d8" />
<rect x="3" y="36.2" width="6" height="0.8" fill="#6f8cb0" />
<rect x="22" y="36.2" width="10" height="0.8" fill="#4e6e96" />
<path d="M35.2,19.6 Q36.6,17.4 38,19.4 L39.4,27.6 L42.4,30.2 L43.8,27.8 Q45,26.8 46,28 L47.4,31.4 Q50.2,32 51.2,35.4 L51.8,42 L34.6,42 L34.6,31 Z" fill="#b5a594" />
<path d="M36,20.4 Q36.7,19 37.4,20.4 L38.4,28 L36,28 Z" fill="#d2c6b8" />
<path d="M39.6,30 L42,32.4 L42,42 L39.6,42 Z" fill="#9a8a7a" />
<path d="M44.4,30 L46,29 L47,33 L45,34 Z" fill="#d6cabc" />
</g>
<text x="199.7" y="345.64" font-size="9.33" font-weight="bold" textLength="33.7" lengthAdjust="spacingAndGlyphs">控制系统</text>
<g transform="translate(137.8 363.7) scale(1 1)">
<rect x="0" y="0" width="162" height="34.2" fill="url(#rackg)" rx="0.8"/>
<path d="M7,11.7 L57.6,11.7 L65.2,5.7 L154.8,5.7 L154.8,26.4 L65.2,26.4 L57.6,20.3 L7,20.3 Z" fill="#33292a" stroke="#74665c" stroke-width="0.55" />
<rect x="0" y="0" width="162" height="0.7" fill="#5a4b42" />
<rect x="0" y="33.4" width="162" height="0.8" fill="#2a2220" />
<rect x="1.3" y="3.3" width="3" height="2.3" fill="#f4f4f4" rx="0.4"/>
<rect x="1.3" y="28.6" width="3" height="2.6" fill="#f4f4f4" rx="0.4"/>
<rect x="157.4" y="3.3" width="3" height="2.3" fill="#f4f4f4" rx="0.4"/>
<rect x="157.4" y="28.6" width="3" height="2.6" fill="#f4f4f4" rx="0.4"/>
<rect x="16.2" y="4.4" width="15" height="3.6" fill="#1c1615" />
<ellipse cx="15.7" cy="28" rx="2.6" ry="2.7" fill="#dfe4ee" />
<ellipse cx="15.9" cy="28.2" rx="0.9" ry="1.1" fill="#7f93c8" />
<rect x="97.4" y="7.1" width="24" height="17.9" fill="#8c837c" />
<rect x="98" y="7.6" width="22.8" height="3.2" fill="#7d7670" />
<rect x="100" y="10.8" width="19" height="1.2" fill="#f0ece6" />
<rect x="101.5" y="12.2" width="16" height="0.9" fill="#c9b7a6" />
<rect x="98" y="13.3" width="22.8" height="5" fill="#9a5a36" />
<rect x="100" y="14.2" width="18.6" height="1.6" fill="#b57244" />
<rect x="98" y="18.3" width="22.8" height="4.1" fill="#2c1e18" />
<rect x="101" y="18.8" width="4.2" height="1.4" fill="#6a3a24" />
<rect x="108" y="18.8" width="5" height="1.4" fill="#5a3020" />
<rect x="115" y="19" width="3.6" height="1.2" fill="#6a3a24" />
<rect x="98" y="22.4" width="22.8" height="2.2" fill="#4a3c36" />
<rect x="104.6" y="23.2" width="9" height="0.9" fill="#8c8a88" />
<rect x="99.5" y="30" width="1.1" height="0.9" fill="#d9d4ce" />
<rect x="101.6" y="30" width="1.1" height="0.9" fill="#a9a19a" />
<rect x="103.7" y="30" width="1.1" height="0.9" fill="#a9a19a" />
<rect x="105.8" y="30" width="1.1" height="0.9" fill="#d9d4ce" />
<rect x="107.9" y="30" width="1.1" height="0.9" fill="#a9a19a" />
<rect x="110" y="30" width="1.1" height="0.9" fill="#a9a19a" />
<rect x="112.1" y="30" width="1.1" height="0.9" fill="#d9d4ce" />
<rect x="114.2" y="30" width="1.1" height="0.9" fill="#a9a19a" />
<rect x="116.3" y="30" width="1.1" height="0.9" fill="#a9a19a" />
<rect x="118.4" y="30" width="1.1" height="0.9" fill="#d9d4ce" />
<rect x="120.5" y="30" width="1.1" height="0.9" fill="#a9a19a" />
<rect x="122.6" y="30" width="1.1" height="0.9" fill="#a9a19a" />
<rect x="124.7" y="30" width="1.1" height="0.9" fill="#d9d4ce" />
<rect x="126.8" y="30" width="1.1" height="0.9" fill="#a9a19a" />
<rect x="129.8" y="29.4" width="4.8" height="1.3" fill="#f1f1f1" />
<rect x="139.8" y="29.4" width="4.8" height="1.3" fill="#f1f1f1" />
<rect x="135.6" y="30.2" width="3.2" height="0.8" fill="#8a827c" />
<rect x="145.4" y="30.2" width="3.6" height="0.8" fill="#8a827c" />
</g>
<g transform="translate(144.9 400.6) scale(1 1)">
<rect x="0" y="0" width="147.6" height="33.2" fill="#c9c9c9" />
<rect x="0" y="0" width="1.1" height="33.2" fill="#101010" />
<rect x="1.1" y="0" width="146.5" height="0.7" fill="#8d8d8d" />
<rect x="146.6" y="0" width="1" height="33.2" fill="#9a9a9a" />
<rect x="1.1" y="0.7" width="3.4" height="32" fill="#dcdcdc" />
<rect x="1.8" y="3.2" width="1.2" height="2.2" fill="#8e8e8e" />
<rect x="1.8" y="11.6" width="1.2" height="2.2" fill="#8e8e8e" />
<rect x="1.8" y="20.4" width="1.2" height="2.2" fill="#8e8e8e" />
<rect x="1.8" y="28.6" width="1.2" height="2.2" fill="#8e8e8e" />
<rect x="4.6" y="1.2" width="139.4" height="5.4" fill="#d3d3d3" stroke="#9c9c9c" stroke-width="0.4"/>
<rect x="12.6" y="2.9" width="48.4" height="2.7" fill="#9bcf1c" />
<rect x="14.8" y="3.3" width="0.6" height="1.9" fill="#7eb010" />
<rect x="17.8" y="3.3" width="0.6" height="1.9" fill="#7eb010" />
<rect x="20.8" y="3.3" width="0.6" height="1.9" fill="#7eb010" />
<rect x="23.8" y="3.3" width="0.6" height="1.9" fill="#7eb010" />
<rect x="26.8" y="3.3" width="0.6" height="1.9" fill="#7eb010" />
<rect x="29.8" y="3.3" width="0.6" height="1.9" fill="#7eb010" />
<rect x="32.8" y="3.3" width="0.6" height="1.9" fill="#7eb010" />
<rect x="35.8" y="3.3" width="0.6" height="1.9" fill="#7eb010" />
<rect x="38.8" y="3.3" width="0.6" height="1.9" fill="#7eb010" />
<rect x="41.8" y="3.3" width="0.6" height="1.9" fill="#7eb010" />
<rect x="44.8" y="3.3" width="0.6" height="1.9" fill="#7eb010" />
<rect x="47.8" y="3.3" width="0.6" height="1.9" fill="#7eb010" />
<rect x="50.8" y="3.3" width="0.6" height="1.9" fill="#7eb010" />
<rect x="53.8" y="3.3" width="0.6" height="1.9" fill="#7eb010" />
<rect x="56.8" y="3.3" width="0.6" height="1.9" fill="#7eb010" />
<rect x="59.8" y="3.3" width="0.6" height="1.9" fill="#7eb010" />
<rect x="66.6" y="2.9" width="24.4" height="2.7" fill="#9bcf1c" />
<rect x="68.4" y="3.3" width="0.6" height="1.9" fill="#7eb010" />
<rect x="71.4" y="3.3" width="0.6" height="1.9" fill="#7eb010" />
<rect x="74.4" y="3.3" width="0.6" height="1.9" fill="#7eb010" />
<rect x="77.4" y="3.3" width="0.6" height="1.9" fill="#7eb010" />
<rect x="80.4" y="3.3" width="0.6" height="1.9" fill="#7eb010" />
<rect x="83.4" y="3.3" width="0.6" height="1.9" fill="#7eb010" />
<rect x="86.4" y="3.3" width="0.6" height="1.9" fill="#7eb010" />
<rect x="89.4" y="3.3" width="0.6" height="1.9" fill="#7eb010" />
<rect x="93.2" y="2.9" width="15.8" height="2.7" fill="#0a0a0a" />
<rect x="4.2" y="6.5" width="57.4" height="1.1" fill="#0e0e0e" />
<rect x="4.2" y="14.6" width="57.4" height="1.1" fill="#0e0e0e" />
<rect x="4.2" y="23.1" width="57.4" height="1.1" fill="#0e0e0e" />
<rect x="4.2" y="31.8" width="57.4" height="1.4" fill="#0e0e0e" />
<rect x="4.6" y="7.8" width="57" height="6.6" fill="#dedede" />
<ellipse cx="8.6" cy="11.4" rx="1.5" ry="2" fill="#f8f8f8" stroke="#666" stroke-width="0.55"/>
<rect x="8.1" y="8.4" width="1" height="1.2" fill="#777" />
<ellipse cx="15.55" cy="11.4" rx="1.5" ry="2" fill="#f8f8f8" stroke="#666" stroke-width="0.55"/>
<rect x="15.05" y="8.4" width="1" height="1.2" fill="#777" />
<ellipse cx="22.5" cy="11.4" rx="1.5" ry="2" fill="#f8f8f8" stroke="#666" stroke-width="0.55"/>
<rect x="22" y="8.4" width="1" height="1.2" fill="#777" />
<ellipse cx="29.45" cy="11.4" rx="1.5" ry="2" fill="#f8f8f8" stroke="#666" stroke-width="0.55"/>
<rect x="28.95" y="8.4" width="1" height="1.2" fill="#777" />
<ellipse cx="36.4" cy="11.4" rx="1.5" ry="2" fill="#f8f8f8" stroke="#666" stroke-width="0.55"/>
<rect x="35.9" y="8.4" width="1" height="1.2" fill="#777" />
<ellipse cx="43.35" cy="11.4" rx="1.5" ry="2" fill="#f8f8f8" stroke="#666" stroke-width="0.55"/>
<rect x="42.85" y="8.4" width="1" height="1.2" fill="#777" />
<ellipse cx="50.3" cy="11.4" rx="1.5" ry="2" fill="#f8f8f8" stroke="#666" stroke-width="0.55"/>
<rect x="49.8" y="8.4" width="1" height="1.2" fill="#777" />
<ellipse cx="57.25" cy="11.4" rx="1.5" ry="2" fill="#f8f8f8" stroke="#666" stroke-width="0.55"/>
<rect x="56.75" y="8.4" width="1" height="1.2" fill="#777" />
<rect x="4.6" y="16" width="57" height="7" fill="#dadada" />
<rect x="18.2" y="17.2" width="2.7" height="4.7" fill="#1c5a2a" />
<rect x="18.8" y="17.8" width="1.5" height="1.4" fill="#39a04a" />
<rect x="18.8" y="20" width="1.5" height="1.4" fill="#39a04a" />
<rect x="9.2" y="20.4" width="3.6" height="1.2" fill="#222" />
<rect x="13.2" y="20.8" width="1.1" height="0.9" fill="#222" />
<rect x="25.4" y="20.2" width="4.6" height="1.1" fill="#444" />
<rect x="34.2" y="19.6" width="2.8" height="2.2" fill="#555" />
<rect x="35" y="17.2" width="1.2" height="1.6" fill="#888" />
<rect x="41.1" y="19.6" width="2.8" height="2.2" fill="#555" />
<rect x="41.9" y="17.2" width="1.2" height="1.6" fill="#888" />
<rect x="48" y="19.6" width="2.8" height="2.2" fill="#555" />
<rect x="48.8" y="17.2" width="1.2" height="1.6" fill="#888" />
<rect x="54.9" y="19.6" width="2.8" height="2.2" fill="#555" />
<rect x="55.7" y="17.2" width="1.2" height="1.6" fill="#888" />
<rect x="17.6" y="24.4" width="4" height="0.7" fill="#3aa050" />
<rect x="4.6" y="24.6" width="57" height="6.8" fill="#d6d6d6" />
<rect x="7.2" y="26.8" width="10.6" height="2.6" fill="#8f8f8f" rx="1"/>
<ellipse cx="7.6" cy="28.1" rx="1" ry="1" fill="#f4f4f4" />
<ellipse cx="17.4" cy="28.1" rx="1" ry="1" fill="#f4f4f4" />
<rect x="9.2" y="27.4" width="6.4" height="1.2" fill="#b8b8b8" />
<rect x="21.2" y="26.8" width="10.6" height="2.6" fill="#8f8f8f" rx="1"/>
<ellipse cx="21.6" cy="28.1" rx="1" ry="1" fill="#f4f4f4" />
<ellipse cx="31.4" cy="28.1" rx="1" ry="1" fill="#f4f4f4" />
<rect x="23.2" y="27.4" width="6.4" height="1.2" fill="#b8b8b8" />
<rect x="35.2" y="26.8" width="10.6" height="2.6" fill="#8f8f8f" rx="1"/>
<ellipse cx="35.6" cy="28.1" rx="1" ry="1" fill="#f4f4f4" />
<ellipse cx="45.4" cy="28.1" rx="1" ry="1" fill="#f4f4f4" />
<rect x="37.2" y="27.4" width="6.4" height="1.2" fill="#b8b8b8" />
<rect x="49.2" y="26.8" width="10.6" height="2.6" fill="#8f8f8f" rx="1"/>
<ellipse cx="49.6" cy="28.1" rx="1" ry="1" fill="#f4f4f4" />
<ellipse cx="59.4" cy="28.1" rx="1" ry="1" fill="#f4f4f4" />
<rect x="51.2" y="27.4" width="6.4" height="1.2" fill="#b8b8b8" />
<rect x="62.4" y="7" width="1.4" height="25.4" fill="#b4b4b4" />
<rect x="63.2" y="9.6" width="2.2" height="3.6" fill="#e6e6e6" />
<rect x="63.2" y="18" width="2.2" height="3.6" fill="#e6e6e6" />
<rect x="63.4" y="26" width="2" height="3.4" fill="#e6e6e6" />
<rect x="66.4" y="7.6" width="60.2" height="6.8" fill="#d2d2d2" />
<rect x="66.4" y="16.2" width="60.2" height="6.6" fill="#d2d2d2" />
<rect x="66.4" y="24.6" width="60.2" height="7.2" fill="#d6d6d6" />
<rect x="68.8" y="14.7" width="57" height="1.3" fill="#0e0e0e" />
<rect x="68.8" y="23.1" width="57" height="1.3" fill="#0e0e0e" />
<rect x="66" y="6.6" width="62" height="0.7" fill="#777" />
<rect x="72.4" y="9.8" width="10.2" height="2.8" fill="#f6f6f6" rx="0.8"/>
<rect x="75.6" y="10.4" width="3.6" height="1.5" fill="#a8a8a8" />
<rect x="72.4" y="18.4" width="10.2" height="2.9" fill="#ffffff" rx="0.8"/>
<rect x="75.6" y="19.1" width="3.8" height="1.4" fill="#b8b8b8" />
<rect x="86.4" y="9.8" width="10.2" height="2.8" fill="#f6f6f6" rx="0.8"/>
<rect x="89.6" y="10.4" width="3.6" height="1.5" fill="#a8a8a8" />
<rect x="86.4" y="18.4" width="10.2" height="2.9" fill="#ffffff" rx="0.8"/>
<rect x="89.6" y="19.1" width="3.8" height="1.4" fill="#b8b8b8" />
<rect x="100.4" y="9.8" width="10.2" height="2.8" fill="#f6f6f6" rx="0.8"/>
<rect x="103.6" y="10.4" width="3.6" height="1.5" fill="#a8a8a8" />
<rect x="100.4" y="18.4" width="10.2" height="2.9" fill="#ffffff" rx="0.8"/>
<rect x="103.6" y="19.1" width="3.8" height="1.4" fill="#b8b8b8" />
<rect x="114.4" y="9.8" width="10.2" height="2.8" fill="#f6f6f6" rx="0.8"/>
<rect x="117.6" y="10.4" width="3.6" height="1.5" fill="#a8a8a8" />
<rect x="114.4" y="18.4" width="10.2" height="2.9" fill="#ffffff" rx="0.8"/>
<rect x="117.6" y="19.1" width="3.8" height="1.4" fill="#b8b8b8" />
<rect x="71.8" y="25.8" width="5.2" height="4.4" fill="#0c0c0c" />
<rect x="72.2" y="25.4" width="1.4" height="1" fill="#d8d020" />
<rect x="78.2" y="25.4" width="44.8" height="3.6" fill="#96cc1a" />
<rect x="82.6" y="25.4" width="1.1" height="3.6" fill="#5e8e10" />
<rect x="87.9" y="25.4" width="1.1" height="3.6" fill="#5e8e10" />
<rect x="93.2" y="25.4" width="1.1" height="3.6" fill="#5e8e10" />
<rect x="98.5" y="25.4" width="1.1" height="3.6" fill="#5e8e10" />
<rect x="103.8" y="25.4" width="1.1" height="3.6" fill="#5e8e10" />
<rect x="109.1" y="25.4" width="1.1" height="3.6" fill="#5e8e10" />
<rect x="114.4" y="25.4" width="1.1" height="3.6" fill="#5e8e10" />
<rect x="119.7" y="25.4" width="1.1" height="3.6" fill="#5e8e10" />
<rect x="79.6" y="30.2" width="3.4" height="0.8" fill="#7a7a7a" />
<rect x="85.9" y="30.2" width="3.4" height="0.8" fill="#7a7a7a" />
<rect x="92.2" y="30.2" width="3.4" height="0.8" fill="#7a7a7a" />
<rect x="98.5" y="30.2" width="3.4" height="0.8" fill="#7a7a7a" />
<rect x="104.8" y="30.2" width="3.4" height="0.8" fill="#7a7a7a" />
<rect x="111.1" y="30.2" width="3.4" height="0.8" fill="#7a7a7a" />
<rect x="117.4" y="30.2" width="3.4" height="0.8" fill="#7a7a7a" />
<rect x="129" y="8.2" width="1.2" height="24.6" fill="#3a3a3a" />
<rect x="130.2" y="7.4" width="16.4" height="25.4" fill="#c4c4c4" />
<rect x="136.2" y="9.6" width="5.4" height="4.3" fill="#101010" />
<rect x="137.2" y="9" width="3" height="0.9" fill="#4a6a3a" />
<rect x="135.4" y="15.6" width="7" height="0.9" fill="#555" />
<rect x="133.6" y="18.8" width="8.6" height="7" fill="#0c0c0c" />
<rect x="135.6" y="20.6" width="4.6" height="3" fill="#4a4a4a" />
<rect x="134.6" y="27.2" width="6.6" height="0.8" fill="#666" />
<rect x="138" y="29.4" width="1.6" height="2" fill="#f0f0f0" />
<rect x="141.6" y="29" width="1.4" height="2.6" fill="#eee" />
<rect x="144.8" y="2" width="1.6" height="4" fill="#e2e2e2" />
</g>
<text x="200.53" y="506.96" font-size="7.33" textLength="26.5" lengthAdjust="spacingAndGlyphs" opacity="0.8">AS-J14</text>
<text x="188.56" y="535.36" font-size="10.67" textLength="48.8" lengthAdjust="spacingAndGlyphs">302会议室</text>
<line x1="322.7" y1="270.5" x2="412.6" y2="270.5" stroke="#adadad" stroke-width="0.9" stroke-dasharray="4.2 2.2" />
<line x1="322.7" y1="270.5" x2="322.7" y2="350" stroke="#adadad" stroke-width="0.9" stroke-dasharray="4.2 2.2" />
<line x1="412.6" y1="270.5" x2="412.6" y2="343.5" stroke="#adadad" stroke-width="0.9" stroke-dasharray="4.2 2.2" />
<g transform="translate(329.4 286.9)">
<rect x="15.4" y="0.1" width="7.6" height="15.6" fill="#0c0c0c" />
<rect x="16.2" y="0.6" width="1.5" height="14.6" fill="#8d8d8d" />
<rect x="21.6" y="0.6" width="0.9" height="14.6" fill="#3c3c3c" />
<polygon points="13.2,15.2 23.2,14.6 23.4,16.2 16,17.8 13.2,16.6" fill="#1b1b1b" />
<rect x="17" y="15.6" width="4" height="1.4" fill="#d8d8d8" />
<polygon points="4.6,4.4 9.4,3.8 10,5.8 5,6.6" fill="#2c2f33" />
<polygon points="1.8,6.6 11.2,6 12,8 6,9.4 1.4,8.2" fill="#3d4146" />
<rect x="5.6" y="8.6" width="3" height="1.8" fill="#25272a" />
<polygon points="0.2,15.6 5.6,11.6 12.4,11.6 17.4,15.4 15,17 2.4,17" fill="#34363a" />
<polygon points="4.2,14.4 6.6,12.2 11.4,12.2 13.4,14.4" fill="#6f7378" />
<ellipse cx="8.8" cy="12.8" rx="2.6" ry="1.2" fill="#7a3434" />
</g>
<g transform="translate(359.8 285)">
<rect x="11.6" y="0.1" width="1.6" height="2.2" fill="#16171a" />
<rect x="2.2" y="1.8" width="17.2" height="15.8" fill="#2a2c30" />
<rect x="2.2" y="1.8" width="4.6" height="15.8" fill="#5e6166" />
<rect x="3.2" y="2.6" width="2" height="13" fill="#44474c" />
<rect x="7.2" y="2.8" width="11" height="8.4" fill="#e9e9ea" />
<rect x="7.2" y="2.8" width="3.2" height="8.4" fill="#cfd6de" />
<polygon points="12,3.2 14.2,3 15.2,11.2 11.2,11.2" fill="#b0382c" />
<rect x="12.2" y="3" width="1.8" height="2.2" fill="#3a2a24" />
<rect x="15.4" y="6.2" width="2.4" height="5" fill="#c9a48a" />
<rect x="7" y="11.4" width="12.4" height="6.2" fill="#1d1e22" />
<rect x="8" y="12.6" width="10.4" height="0.8" fill="#4a4c52" />
<rect x="0.1" y="16.6" width="4.2" height="2.8" fill="#111" />
<rect x="0.8" y="17" width="1.8" height="1" fill="#e5e5e5" />
</g>
<g transform="translate(386.1 289.7)">
<rect x="0" y="0" width="22" height="11.2" fill="#0b0b0d" rx="1.6"/>
<rect x="3.4" y="0.8" width="15.2" height="9.6" fill="#e8e6e2" />
<rect x="3.4" y="0.8" width="3.8" height="3.8" fill="#d9d3c4" />
<rect x="7.6" y="1" width="2.6" height="3.4" fill="#4c3a30" />
<rect x="10.6" y="0.8" width="3.4" height="3.8" fill="#f4f2ee" />
<rect x="14.2" y="1" width="3.8" height="3.6" fill="#c9934e" />
<rect x="3.4" y="4.6" width="15.2" height="1.5" fill="#1f62c6" />
<rect x="3.4" y="6.1" width="3.4" height="4.3" fill="#cfc3b0" />
<rect x="7.2" y="6.4" width="2.4" height="3.8" fill="#6a4a38" />
<rect x="10" y="6.1" width="4" height="4.3" fill="#f1efea" />
<rect x="14.4" y="6.3" width="3.8" height="4" fill="#c4a070" />
<rect x="19.4" y="3.4" width="1.2" height="1" fill="#b78a1e" />
<rect x="19.4" y="6.4" width="1.2" height="1.2" fill="#a2801c" />
<rect x="1" y="4.2" width="1.2" height="2.8" fill="#2a2c34" />
</g>
<text x="343.7" y="324.15" font-size="7.56" textLength="49.7" lengthAdjust="spacingAndGlyphs" opacity="0.86">远程视频会议终端</text>
<path d="M299.8,384.4 L316.9,384.4 L316.9,350.4" fill="none" stroke="#7d42bd" stroke-width="1.25" />
<path d="M316.9,333.4 L316.9,298.6 L322.9,298.6" fill="none" stroke="#7d42bd" stroke-width="1.25" />
<text x="311.99" y="340.08" font-size="5.33" font-weight="bold" textLength="9.1" lengthAdjust="spacingAndGlyphs">SIP</text>
<text x="309.3" y="347.84" font-size="6" font-weight="bold" textLength="13.2" lengthAdjust="spacingAndGlyphs">H323</text>
<g transform="translate(375.9 359.8)">
<polygon points="3.8,0 28.8,0 30.2,2.1 2.4,2.1" fill="#0a0a0a" />
<rect x="1.1" y="2" width="31" height="7.8" fill="#7f8e94" />
<rect x="1.1" y="2" width="2.2" height="7.8" fill="#a9b2b4" />
<rect x="29.9" y="2" width="2.2" height="7.8" fill="#a4adb0" />
<rect x="3.4" y="2.8" width="26.4" height="6.2" fill="#5a6970" />
<rect x="4.2" y="3.4" width="9.6" height="4.8" fill="#39464c" />
<rect x="14.1" y="5.3" width="4" height="1.8" fill="#1b339c" />
<rect x="19.6" y="5.6" width="1.1" height="1.3" fill="#1e2226" />
<rect x="22" y="5.6" width="1.1" height="1.3" fill="#1e2226" />
<rect x="24.4" y="5.6" width="1.1" height="1.3" fill="#1e2226" />
<rect x="26.6" y="5.2" width="2" height="2" fill="#20262a" />
<rect x="4" y="3" width="25" height="0.7" fill="#9aa6aa" />
<rect x="1.8" y="9.7" width="29.6" height="10.4" fill="#1d2c27" />
<rect x="1.8" y="9.7" width="29.6" height="1.4" fill="#30403a" />
<rect x="2.6" y="12" width="28" height="2.8" fill="#15211d" />
<rect x="4.2" y="16.3" width="3.2" height="1.2" fill="#e8e060" />
<rect x="8.8" y="16.6" width="0.8" height="0.8" fill="#5a6a60" />
<rect x="11.1" y="16.6" width="0.8" height="0.8" fill="#5a6a60" />
<rect x="13.4" y="16.6" width="0.8" height="0.8" fill="#5a6a60" />
<rect x="15.7" y="16.6" width="0.8" height="0.8" fill="#5a6a60" />
<rect x="18" y="16.6" width="0.8" height="0.8" fill="#5a6a60" />
<rect x="20.3" y="16.6" width="0.8" height="0.8" fill="#5a6a60" />
<rect x="21.2" y="16.2" width="1.4" height="1.6" fill="#f2f2f2" />
<rect x="22.6" y="17" width="2.2" height="0.9" fill="#e6e6e6" />
<rect x="25" y="16" width="1.4" height="1.4" fill="#d8d8d8" />
<rect x="3.6" y="20.1" width="2.2" height="1" fill="#0a0a0a" />
<rect x="27.2" y="20.1" width="2.2" height="1" fill="#0a0a0a" />
<rect x="0" y="22.3" width="33.2" height="2.9" fill="#0c0c0c" />
<rect x="20" y="23.2" width="11" height="0.7" fill="#4a4a4a" />
</g>
<line x1="325.86" y1="369.3" x2="333" y2="369.3" stroke="#14a64a" stroke-width="1.25" />
<line x1="364.3" y1="369.3" x2="374.7" y2="369.3" stroke="#14a64a" stroke-width="1.25" />
<text x="333.3" y="371.53" font-size="6.22" textLength="30.5" lengthAdjust="spacingAndGlyphs" opacity="0.92">手拉手主机</text>
<polygon points="322.6,369.3 327.7,367.8 327.7,370.8" fill="#14a64a" />
<g transform="translate(375.9 396.2)">
<polygon points="3.8,0 28.8,0 30.2,2.1 2.4,2.1" fill="#0a0a0a" />
<rect x="1.1" y="2" width="31" height="7.8" fill="#7f8e94" />
<rect x="1.1" y="2" width="2.2" height="7.8" fill="#a9b2b4" />
<rect x="29.9" y="2" width="2.2" height="7.8" fill="#a4adb0" />
<rect x="3.4" y="2.8" width="26.4" height="6.2" fill="#5a6970" />
<rect x="4.2" y="3.4" width="9.6" height="4.8" fill="#39464c" />
<rect x="14.1" y="5.3" width="4" height="1.8" fill="#1b339c" />
<rect x="19.6" y="5.6" width="1.1" height="1.3" fill="#1e2226" />
<rect x="22" y="5.6" width="1.1" height="1.3" fill="#1e2226" />
<rect x="24.4" y="5.6" width="1.1" height="1.3" fill="#1e2226" />
<rect x="26.6" y="5.2" width="2" height="2" fill="#20262a" />
<rect x="4" y="3" width="25" height="0.7" fill="#9aa6aa" />
<rect x="1.8" y="9.7" width="29.6" height="10.4" fill="#1d2c27" />
<rect x="1.8" y="9.7" width="29.6" height="1.4" fill="#30403a" />
<rect x="2.6" y="12" width="28" height="2.8" fill="#15211d" />
<rect x="4.2" y="16.3" width="3.2" height="1.2" fill="#e8e060" />
<rect x="8.8" y="16.6" width="0.8" height="0.8" fill="#5a6a60" />
<rect x="11.1" y="16.6" width="0.8" height="0.8" fill="#5a6a60" />
<rect x="13.4" y="16.6" width="0.8" height="0.8" fill="#5a6a60" />
<rect x="15.7" y="16.6" width="0.8" height="0.8" fill="#5a6a60" />
<rect x="18" y="16.6" width="0.8" height="0.8" fill="#5a6a60" />
<rect x="20.3" y="16.6" width="0.8" height="0.8" fill="#5a6a60" />
<rect x="21.2" y="16.2" width="1.4" height="1.6" fill="#f2f2f2" />
<rect x="22.6" y="17" width="2.2" height="0.9" fill="#e6e6e6" />
<rect x="25" y="16" width="1.4" height="1.4" fill="#d8d8d8" />
<rect x="3.6" y="20.1" width="2.2" height="1" fill="#0a0a0a" />
<rect x="27.2" y="20.1" width="2.2" height="1" fill="#0a0a0a" />
<rect x="0" y="22.3" width="33.2" height="2.9" fill="#0c0c0c" />
<rect x="20" y="23.2" width="11" height="0.7" fill="#4a4a4a" />
</g>
<line x1="324.96" y1="405.4" x2="328.9" y2="405.4" stroke="#14a64a" stroke-width="1.25" />
<line x1="367.9" y1="405.4" x2="374.7" y2="405.4" stroke="#14a64a" stroke-width="1.25" />
<text x="329.2" y="407.63" font-size="6.22" textLength="38.2" lengthAdjust="spacingAndGlyphs" opacity="0.92">无线麦克主机</text>
<polygon points="321.7,405.4 326.8,403.9 326.8,406.9" fill="#14a64a" />
<g transform="translate(361.8 441) rotate(0)">
<rect x="0" y="0" width="41.4" height="7.2" fill="#0b0b0d" rx="0.5"/>
<rect x="1.4" y="1" width="38.6" height="0.6" fill="#3a3a42" />
<rect x="3.6" y="2.2" width="4.2" height="1.6" fill="#6a6e78" />
<rect x="9.2" y="2" width="2.6" height="1.2" fill="#8890a0" />
<rect x="13.4" y="2" width="8.4" height="2.2" fill="#22389e" />
<rect x="14.2" y="2.4" width="4" height="0.9" fill="#6f86d8" />
<rect x="23.6" y="2.4" width="3.4" height="1.4" fill="#27398c" />
<rect x="28.2" y="2.2" width="5.4" height="1.4" fill="#242f7a" />
<rect x="34.6" y="2.4" width="2.4" height="1.2" fill="#5a60a0" />
<rect x="38.2" y="1.6" width="1.6" height="1.4" fill="#b03030" />
<rect x="3" y="5.2" width="1.4" height="0.8" fill="#4a4c58" />
<rect x="6.1" y="5.2" width="1.4" height="0.8" fill="#4a4c58" />
<rect x="9.2" y="5.2" width="1.4" height="0.8" fill="#4a4c58" />
<rect x="12.3" y="5.2" width="1.4" height="0.8" fill="#4a4c58" />
<rect x="15.4" y="5.2" width="1.4" height="0.8" fill="#4a4c58" />
<rect x="18.5" y="5.2" width="1.4" height="0.8" fill="#4a4c58" />
<rect x="21.6" y="5.2" width="1.4" height="0.8" fill="#4a4c58" />
<rect x="24.7" y="5.2" width="1.4" height="0.8" fill="#4a4c58" />
<rect x="27.8" y="5.2" width="1.4" height="0.8" fill="#4a4c58" />
<rect x="30.9" y="5.2" width="1.4" height="0.8" fill="#4a4c58" />
<rect x="34" y="5.2" width="1.4" height="0.8" fill="#4a4c58" />
<rect x="37.1" y="5.2" width="1.4" height="0.8" fill="#4a4c58" />
</g>
<line x1="321.7" y1="445.4" x2="335.7" y2="445.4" stroke="#14a64a" stroke-width="1.25" />
<line x1="348.7" y1="445.4" x2="359.08" y2="445.4" stroke="#14a64a" stroke-width="1.25" />
<text x="336" y="447.63" font-size="6.22" textLength="12.2" lengthAdjust="spacingAndGlyphs" opacity="0.6">音频</text>
<polygon points="362.1,445.4 357.4,443.8 357.4,447" fill="#14a64a" />
<line x1="368.3" y1="451.9" x2="368.3" y2="467.4" stroke="#111" stroke-width="1" />
<line x1="399.5" y1="451.9" x2="399.5" y2="468.4" stroke="#7a7a7a" stroke-width="0.7" />
<g transform="translate(364 467.2) scale(1 1)">
<polygon points="0.3,0.8 8.6,0 10.2,0.5 10.2,16.2 8.4,17 0.3,16.2" fill="#9aa1aa" />
<polygon points="8.6,0 10.2,0.5 10.2,16.2 8.4,17" fill="#d4d7db" />
<rect x="1.2" y="1.8" width="6.6" height="13.6" fill="#a7aeb8" />
<rect x="0.3" y="0.8" width="0.9" height="15.4" fill="#858c96" />
<rect x="0.8" y="15.8" width="8" height="0.9" fill="#c9ccd0" />
</g>
<g transform="translate(395 468.8) scale(0.96 1)">
<polygon points="0.3,0.8 8.6,0 10.2,0.5 10.2,16.2 8.4,17 0.3,16.2" fill="#9aa1aa" />
<polygon points="8.6,0 10.2,0.5 10.2,16.2 8.4,17" fill="#d4d7db" />
<rect x="1.2" y="1.8" width="6.6" height="13.6" fill="#a7aeb8" />
<rect x="0.3" y="0.8" width="0.9" height="15.4" fill="#858c96" />
<rect x="0.8" y="15.8" width="8" height="0.9" fill="#c9ccd0" />
</g>
<text x="378.9" y="483.23" font-size="6.22" textLength="10.9" lengthAdjust="spacingAndGlyphs" opacity="0.7">音箱</text>
<text x="351.6" y="513.65" font-size="9.11" font-weight="bold" textLength="33.4" lengthAdjust="spacingAndGlyphs">音频系统</text>
<g transform="translate(514.9 303.2)">
<path d="M0.2,1.6 L3.2,0.1 L24.4,0.1 L31,1.5 L31,8.9 L15.4,8.9 Q9,8.2 4.2,6.5 L0.2,5.7 Z" fill="#141414" />
<path d="M1,2.2 L24,1.2 L30,2.4 L30,3.1 L16,3.6 L1,3 Z" fill="#3c3c3c" />
<path d="M16,3.3 L27,2.9 L27,3.5 L16,3.9Z" fill="#8a8a8a" />
<rect x="27.5" y="3.8" width="0.9" height="2.4" fill="#2b2b98" />
</g>
<line x1="546.1" y1="308.1" x2="569.1" y2="308.1" stroke="#4a40f4" stroke-width="1.25" />
<line x1="577.5" y1="308.1" x2="596.74" y2="308.1" stroke="#4a40f4" stroke-width="1.25" />
<text x="569.46" y="310.33" font-size="6.22" font-weight="bold" textLength="7.3" lengthAdjust="spacingAndGlyphs">HDMI</text>
<polygon points="599.4,308.1 595.3,306.2 595.3,310" fill="#4a40f4" />
<text x="512.3" y="323.76" font-size="7.33" font-weight="bold" textLength="39.1" lengthAdjust="spacingAndGlyphs" opacity="0.95">视频会议终端</text>
<g transform="translate(514.8 335.4)">
<path d="M2.4,0.1 L28.4,0.1 L31.3,4.2 L31.3,7.3 Q31,8 29.5,8 L21,8 Q16,9.6 10,8 L1.6,8 Q0.2,8 0.2,7.2 L0.2,4.2 Z" fill="#101010" />
<path d="M3,0.6 L28,0.6 L30.3,3.9 L1,3.9 Z" fill="#3a3a3a" />
<path d="M10,0.8 L27.6,0.8 L29.6,3.5 L18,3.5 Z" fill="#5a5a5a" />
<rect x="13.5" y="5.3" width="5" height="1.6" fill="#3a3a3a" />
</g>
<line x1="548.4" y1="339" x2="565.9" y2="339" stroke="#4a40f4" stroke-width="1.25" />
<line x1="579.2" y1="339" x2="596.24" y2="339" stroke="#4a40f4" stroke-width="1.25" />
<text x="566.29" y="341.23" font-size="6.22" font-weight="bold" textLength="12.1" lengthAdjust="spacingAndGlyphs">HDMI</text>
<polygon points="598.9,339 594.8,337.1 594.8,340.9" fill="#4a40f4" />
<text x="517.3" y="353.56" font-size="7.33" font-weight="bold" textLength="25.8" lengthAdjust="spacingAndGlyphs" opacity="0.95">无线投屏</text>
<g transform="translate(519 358.4) scale(1)">
<ellipse cx="11.2" cy="16.4" rx="11.1" ry="4.3" fill="#161616" />
<ellipse cx="11.2" cy="15.3" rx="10.8" ry="3.5" fill="#4e5252" />
<ellipse cx="11.2" cy="14.9" rx="8.6" ry="2.5" fill="#b9bcbc" />
<ellipse cx="11.2" cy="14.4" rx="6" ry="1.5" fill="#eeeeee" />
<path d="M1.0,16.4 Q11.2,22.4 21.4,16.4 L21.4,17.6 Q11.2,24 1.0,17.6Z" fill="#0c0c0c" />
<rect x="6.2" y="19.3" width="0.9" height="0.8" fill="#9a9a9a" />
<rect x="8.5" y="19.3" width="0.9" height="0.8" fill="#9a9a9a" />
<rect x="10.8" y="19.3" width="0.9" height="0.8" fill="#9a9a9a" />
<rect x="13.1" y="19.3" width="0.9" height="0.8" fill="#9a9a9a" />
<rect x="15.4" y="19.3" width="0.9" height="0.8" fill="#9a9a9a" />
<rect x="0.3" y="13.4" width="3.4" height="3.6" fill="#3a3d3d" />
<rect x="18.8" y="13.6" width="3.2" height="3.2" fill="#5a5d5d" />
<path d="M3.2,3.4 Q3.2,1.6 5.2,1.6 L17.4,1.6 Q19.4,1.6 19.4,3.4 L19.4,13.6 L3.2,13.6 Z" fill="#7c8080" />
<rect x="3.2" y="2.4" width="3.2" height="11.2" fill="#3f4242" />
<rect x="16.2" y="2.4" width="3.2" height="11.2" fill="#363939" />
<rect x="3.8" y="2.2" width="3.4" height="1.7" fill="#e2e2e2" />
<rect x="14.8" y="2.2" width="3.6" height="1.7" fill="#e2e2e2" />
<ellipse cx="11.2" cy="3.4" rx="3.7" ry="3.4" fill="#060606" />
<rect x="7.4" y="5.6" width="7.6" height="2" fill="#1c1c1c" />
<rect x="7.6" y="8.6" width="7.4" height="2.6" fill="#f4f4f4" />
<rect x="6.4" y="7.8" width="9.8" height="0.8" fill="#161616" />
<rect x="6.4" y="11.2" width="9.8" height="0.8" fill="#161616" />
<rect x="6.2" y="12.2" width="10.2" height="1.5" fill="#a9acac" />
</g>
<line x1="546.1" y1="370.7" x2="567.7" y2="370.7" stroke="#4a40f4" stroke-width="1.25" />
<line x1="577.5" y1="370.7" x2="596.24" y2="370.7" stroke="#4a40f4" stroke-width="1.25" />
<text x="568.09" y="372.93" font-size="6.22" font-weight="bold" textLength="8.6" lengthAdjust="spacingAndGlyphs">SDI</text>
<polygon points="598.9,370.7 594.8,368.8 594.8,372.6" fill="#4a40f4" />
<text x="518.2" y="387.35" font-size="7.56" font-weight="bold" textLength="24.8" lengthAdjust="spacingAndGlyphs" opacity="0.95">摄像机1-2</text>
<g transform="translate(523.9 396.2)">
<path d="M1.4,0.4 L12.8,0.4 L14.1,7.4 L14.1,8.5 L0.1,8.5 L0.1,7.4 Z" fill="#b89a48" />
<path d="M1.8,0.9 L12.4,0.9 L13.2,6.6 L1,6.6 Z" fill="#d9c070" />
<rect x="2.8" y="1.8" width="8.8" height="4.1" fill="#ecebe4" />
<rect x="2.8" y="1.8" width="8.8" height="0.6" fill="#8c845c" />
<rect x="6.6" y="3.2" width="1.2" height="1.4" fill="#6f6a58" />
<rect x="0.1" y="7.2" width="14" height="1.3" fill="#8a6f2c" />
</g>
<line x1="546.1" y1="402.3" x2="565.7" y2="402.3" stroke="#4a40f4" stroke-width="1.25" />
<line x1="579.2" y1="402.3" x2="596.24" y2="402.3" stroke="#4a40f4" stroke-width="1.25" />
<text x="566.1" y="404.53" font-size="6.22" font-weight="bold" textLength="12.3" lengthAdjust="spacingAndGlyphs">HDMI</text>
<polygon points="598.9,402.3 594.8,400.4 594.8,404.2" fill="#4a40f4" />
<text x="520.9" y="421.2" font-size="6.67" textLength="19.4" lengthAdjust="spacingAndGlyphs" opacity="0.86">桌插*2</text>
<g transform="translate(514.8 428.2)">
<path d="M0.2,1.6 L3.2,0.1 L24.4,0.1 L31,1.5 L31,8.9 L15.4,8.9 Q9,8.2 4.2,6.5 L0.2,5.7 Z" fill="#141414" />
<path d="M1,2.2 L24,1.2 L30,2.4 L30,3.1 L16,3.6 L1,3 Z" fill="#3c3c3c" />
<path d="M16,3.3 L27,2.9 L27,3.5 L16,3.9Z" fill="#8a8a8a" />
<rect x="27.5" y="3.8" width="0.9" height="2.4" fill="#2b2b98" />
</g>
<line x1="549.06" y1="433.2" x2="565.7" y2="433.2" stroke="#4a40f4" stroke-width="1.25" />
<line x1="577.9" y1="433.2" x2="598.4" y2="433.2" stroke="#4a40f4" stroke-width="1.25" />
<text x="566.09" y="435.43" font-size="6.22" font-weight="bold" textLength="11" lengthAdjust="spacingAndGlyphs" opacity="0.9">HDMI</text>
<polygon points="546.4,433.2 550.5,431.3 550.5,435.1" fill="#4a40f4" />
<text x="512" y="449.17" font-size="7.11" textLength="38.2" lengthAdjust="spacingAndGlyphs" opacity="0.86">视频会议终端</text>
<g transform="translate(519.8 459.6)">
<rect x="0" y="0" width="22.4" height="13.2" fill="#1b2a4a" />
<rect x="0.6" y="0.5" width="21.2" height="11.9" fill="url(#tvg)" />
<rect x="0" y="12.2" width="22.4" height="1" fill="#15181f" />
<rect x="9.6" y="13.2" width="3.2" height="1" fill="#2c3f73" />
<rect x="6.4" y="14" width="9.6" height="0.9" fill="#2a3d6e" />
</g>
<line x1="549.36" y1="468.1" x2="565.7" y2="468.1" stroke="#4a40f4" stroke-width="1.25" />
<line x1="578.5" y1="468.1" x2="598.8" y2="468.1" stroke="#4a40f4" stroke-width="1.25" />
<text x="566.09" y="470.33" font-size="6.22" font-weight="bold" textLength="11.6" lengthAdjust="spacingAndGlyphs">HDMI</text>
<polygon points="546.7,468.1 550.8,466.2 550.8,470" fill="#4a40f4" />
<text x="517.9" y="483.76" font-size="7.33" font-weight="bold" textLength="25.2" lengthAdjust="spacingAndGlyphs" opacity="0.95">监控电视</text>
<text x="534.2" y="513.07" font-size="8.89" font-weight="bold" textLength="32.9" lengthAdjust="spacingAndGlyphs">视频系统</text>
<line x1="508.8" y1="517.4" x2="597.3" y2="517.4" stroke="#bdbdbd" stroke-width="0.9" stroke-dasharray="3.6 1.7" />
<line x1="613.5" y1="271.9" x2="613.5" y2="350" stroke="#ededed" stroke-width="1" />
<text x="635.6" y="284.77" font-size="7.11" font-weight="bold" textLength="24.2" lengthAdjust="spacingAndGlyphs">中控设备</text>
<g transform="translate(622.9 295)">
<path d="M0,4.9 L3.8,4.9 L5.2,4.0 Q6.6,2.0 9.2,1.5 L11.6,1.1 L11.6,0 L13.8,0 L13.8,10.9 L11.6,10.9 L11.6,9.8 L9.2,9.4 Q6.6,8.9 5.2,6.9 L3.8,6.1 L0,6.1 Z" fill="#050505" />
<rect x="14.9" y="1.9" width="5.2" height="1.9" fill="#050505" />
<rect x="14.9" y="7.1" width="5.2" height="1.9" fill="#050505" />
</g>
<g transform="translate(659.8 295) scale(0.34 0.36)">
<rect x="0" y="0" width="71" height="35.7" fill="#2a2521" />
<polygon points="2.5,0.8 69.5,0.8 69.5,7.2 3,2.6" fill="#343a4c" />
<polygon points="20,1.2 69,3.4 69,4.6 14,1.6" fill="#6f7ea6" />
<polygon points="30,1 69,1.9 69,2.8 34,1.5" fill="#56628a" />
<polygon points="38,3.4 69,5.4 69,6.4 30,3.4" fill="#5d6c98" />
<rect x="51" y="0.9" width="9.5" height="1.5" fill="#f4f4f4" />
<rect x="36" y="0.6" width="6" height="0.9" fill="#1c1a18" />
<polygon points="2.5,33.4 69.5,30.4 69.5,34.6 2.5,35" fill="#4a3b30" />
<polygon points="3.1,2.7 68.4,7.1 68.4,30.2 3.1,33.3" fill="#1762d6" />
<polygon points="3.1,2.7 68.4,7.1 68.4,8.49 3.1,4.54" fill="#1656dc" />
<polygon points="3.1,4.54 68.4,8.49 68.4,15.88 3.1,14.33" fill="#2fb2ea" />
<polygon points="4.41,5.22 67.09,8.87 67.09,11.66 4.41,8.88" fill="#59cdf0" />
<polygon points="7.02,7.49 22.69,8.27 22.69,11.11 7.02,10.5" fill="#a9e8f6" />
<polygon points="9.63,8.51 17.47,8.88 17.47,10.62 9.63,10.3" fill="#ecfafd" />
<polygon points="25.3,8.12 40.97,8.93 40.97,10.5 25.3,9.81" fill="#c4eef8" />
<polygon points="30.53,8.94 35.75,9.2 35.75,10.81 30.53,10.59" fill="#ffffff" />
<polygon points="22.69,9.97 43.59,10.88 43.59,13.21 22.69,12.52" fill="#8fe0f4" />
<polygon points="27.91,11.03 34.44,11.29 34.44,12.64 27.91,12.42" fill="#e4f8fc" />
<polygon points="44.89,10.16 67.75,11.23 67.75,14.01 44.89,13.26" fill="#7cd8f2" />
<polygon points="48.81,10.85 55.34,11.14 55.34,12.62 48.81,12.37" fill="#dff6fb" />
<polygon points="56.65,12.66 66.44,13.03 66.44,14.9 56.65,14.62" fill="#c9f0f8" />
<polygon points="6.37,11.69 42.28,12.91 42.28,14.74 6.37,13.8" fill="#48bfec" />
<polygon points="10.94,12.43 21.38,12.77 21.38,13.91 10.94,13.62" fill="#b8ecf8" />
<polygon points="3.1,12.8 32.49,13.66 32.49,15.03 3.1,14.33" fill="#2a86de" />
<polygon points="3.1,14.33 68.4,15.88 68.4,17.73 3.1,16.78" fill="#d8bad4" />
<polygon points="12.9,14.86 58.61,15.89 58.61,17.1 12.9,16.33" fill="#f6eaf0" />
<polygon points="3.1,15.25 14.85,15.48 14.85,16.95 3.1,16.78" fill="#b9a0c8" />
<polygon points="3.1,16.78 68.4,17.73 68.4,18.65 3.1,18" fill="#2a2e4c" />
<polygon points="3.1,18 68.4,18.65 68.4,20.5 3.1,20.45" fill="#efeff2" />
<polygon points="43.59,18.4 55.34,18.52 55.34,19.75 43.59,19.7" fill="#4fb562" />
<polygon points="3.1,18.61 22.69,18.76 22.69,20.46 3.1,20.45" fill="#cbb2aa" />
<polygon points="25.96,19.63 43.59,19.7 43.59,20.48 25.96,20.47" fill="#9fd8ee" />
<polygon points="3.1,20.45 68.4,20.5 68.4,22.81 3.1,23.51" fill="#24365e" />
<polygon points="19.43,21.04 58.61,20.98 58.61,22.19 19.43,22.47" fill="#6a78a6" />
<polygon points="3.1,21.67 17.47,21.62 17.47,23.06 3.1,23.2" fill="#3a64b8" />
<polygon points="3.1,23.51 68.4,22.81 68.4,25.81 3.1,27.49" fill="#0f62d6" />
<polygon points="9.63,24.03 48.81,23.52 48.81,24.79 9.63,25.53" fill="#2a7ce6" />
<polygon points="3.1,27.49 68.4,25.81 68.4,27.2 3.1,29.32" fill="#14264c" />
<polygon points="3.1,29.32 68.4,27.2 68.4,30.2 3.1,33.3" fill="#166ada" />
<polygon points="39.67,26.28 67.09,25.61 67.09,27.94 39.67,28.92" fill="#e4c2da" />
<polygon points="46.2,26.89 61.87,26.46 61.87,27.89 46.2,28.43" fill="#ffffff" />
<polygon points="16.16,29.48 61.87,27.89 61.87,29.08 16.16,30.93" fill="#3a8ae8" />
<polygon points="3.1,31.46 45.55,29.74 45.55,31.28 3.1,33.3" fill="#0b3c96" />
<rect x="0" y="0" width="2.6" height="35.7" fill="#2b2420" />
<rect x="69" y="0" width="2" height="35.7" fill="#2e2826" />
</g>
<g transform="translate(646.6 310.6) scale(0.73)">
<ellipse cx="11.2" cy="16.4" rx="11.1" ry="4.3" fill="#161616" />
<ellipse cx="11.2" cy="15.3" rx="10.8" ry="3.5" fill="#4e5252" />
<ellipse cx="11.2" cy="14.9" rx="8.6" ry="2.5" fill="#b9bcbc" />
<ellipse cx="11.2" cy="14.4" rx="6" ry="1.5" fill="#eeeeee" />
<path d="M1.0,16.4 Q11.2,22.4 21.4,16.4 L21.4,17.6 Q11.2,24 1.0,17.6Z" fill="#0c0c0c" />
<rect x="6.2" y="19.3" width="0.9" height="0.8" fill="#9a9a9a" />
<rect x="8.5" y="19.3" width="0.9" height="0.8" fill="#9a9a9a" />
<rect x="10.8" y="19.3" width="0.9" height="0.8" fill="#9a9a9a" />
<rect x="13.1" y="19.3" width="0.9" height="0.8" fill="#9a9a9a" />
<rect x="15.4" y="19.3" width="0.9" height="0.8" fill="#9a9a9a" />
<rect x="0.3" y="13.4" width="3.4" height="3.6" fill="#3a3d3d" />
<rect x="18.8" y="13.6" width="3.2" height="3.2" fill="#5a5d5d" />
<path d="M3.2,3.4 Q3.2,1.6 5.2,1.6 L17.4,1.6 Q19.4,1.6 19.4,3.4 L19.4,13.6 L3.2,13.6 Z" fill="#7c8080" />
<rect x="3.2" y="2.4" width="3.2" height="11.2" fill="#3f4242" />
<rect x="16.2" y="2.4" width="3.2" height="11.2" fill="#363939" />
<rect x="3.8" y="2.2" width="3.4" height="1.7" fill="#e2e2e2" />
<rect x="14.8" y="2.2" width="3.6" height="1.7" fill="#e2e2e2" />
<ellipse cx="11.2" cy="3.4" rx="3.7" ry="3.4" fill="#060606" />
<rect x="7.4" y="5.6" width="7.6" height="2" fill="#1c1c1c" />
<rect x="7.6" y="8.6" width="7.4" height="2.6" fill="#f4f4f4" />
<rect x="6.4" y="7.8" width="9.8" height="0.8" fill="#161616" />
<rect x="6.4" y="11.2" width="9.8" height="0.8" fill="#161616" />
<rect x="6.2" y="12.2" width="10.2" height="1.5" fill="#a9acac" />
</g>
<line x1="618.3" y1="332.3" x2="691.2" y2="332.3" stroke="#d8d8d8" stroke-width="0.8" stroke-dasharray="2.4 2.0" />
<text x="712.6" y="285.6" font-size="6.67" textLength="42.9" lengthAdjust="spacingAndGlyphs" opacity="0.86">可视化平台HMI</text>
<g transform="translate(703.6 289.5)">
<rect x="0" y="0" width="57" height="42.2" fill="#fbfbfb" stroke="#d5d5d5" stroke-width="0.6" rx="0.8"/>
<rect x="24.4" y="2" width="1.4" height="1.2" fill="#e03030" />
<rect x="26.6" y="2.2" width="4.4" height="0.9" fill="#c04050" />
<rect x="23.6" y="3.8" width="8.6" height="0.9" fill="#3a3a3a" />
<rect x="1.3" y="6.7" width="53.8" height="31.2" fill="#102846" />
<rect x="1.3" y="6.7" width="53.8" height="1.6" fill="#1c4472" />
<rect x="3.2" y="7" width="9" height="0.9" fill="#9fb8d6" />
<rect x="2.8" y="9.6" width="20.6" height="17.2" fill="#0c2038" stroke="#28507c" stroke-width="0.4"/>
<rect x="4.4" y="11.6" width="2.4" height="1" fill="#6f8cb0" />
<rect x="9" y="11.6" width="2.6" height="1" fill="#b8cbe2" />
<rect x="13.6" y="11.6" width="2.8" height="1" fill="#6f8cb0" />
<rect x="18.2" y="11.6" width="2.4" height="1" fill="#b8cbe2" />
<rect x="4.4" y="14.5" width="2.4" height="1" fill="#b8cbe2" />
<rect x="9" y="14.5" width="2.6" height="1" fill="#6f8cb0" />
<rect x="13.6" y="14.5" width="2.8" height="1" fill="#b8cbe2" />
<rect x="18.2" y="14.5" width="2.4" height="1" fill="#6f8cb0" />
<rect x="4.4" y="17.4" width="2.4" height="1" fill="#6f8cb0" />
<rect x="9" y="17.4" width="2.6" height="1" fill="#b8cbe2" />
<rect x="13.6" y="17.4" width="2.8" height="1" fill="#6f8cb0" />
<rect x="18.2" y="17.4" width="2.4" height="1" fill="#b8cbe2" />
<rect x="4.4" y="20.3" width="2.4" height="1" fill="#b8cbe2" />
<rect x="9" y="20.3" width="2.6" height="1" fill="#6f8cb0" />
<rect x="13.6" y="20.3" width="2.8" height="1" fill="#b8cbe2" />
<rect x="18.2" y="20.3" width="2.4" height="1" fill="#6f8cb0" />
<rect x="4.4" y="23.2" width="2.4" height="1" fill="#6f8cb0" />
<rect x="9" y="23.2" width="2.6" height="1" fill="#b8cbe2" />
<rect x="13.6" y="23.2" width="2.8" height="1" fill="#6f8cb0" />
<rect x="18.2" y="23.2" width="2.4" height="1" fill="#b8cbe2" />
<rect x="26.4" y="11.6" width="12.8" height="5.4" fill="#2d68a6" />
<rect x="40.2" y="11.6" width="12.6" height="5.4" fill="#2a62a0" />
<rect x="26.4" y="18.4" width="12.8" height="4.4" fill="#2d68a6" />
<rect x="40.2" y="18.4" width="12.6" height="4.4" fill="#2a62a0" />
<rect x="26.4" y="24" width="12.8" height="3" fill="#2d68a6" />
<rect x="40.2" y="24" width="12.6" height="3" fill="#2a62a0" />
<rect x="26" y="9.4" width="5" height="0.9" fill="#b9cde4" />
<rect x="33.6" y="15.2" width="12.4" height="7.2" fill="#e9e4ea" />
<rect x="35.2" y="15.8" width="2.2" height="6" fill="#c98a90" />
<rect x="39.4" y="15.6" width="2.4" height="6.4" fill="#8aa6c8" />
<rect x="43" y="16" width="1.8" height="5.6" fill="#c7a58a" />
<rect x="2.6" y="29.8" width="13.4" height="4.8" fill="#2b2a30" />
<rect x="3.2" y="30.2" width="2.6" height="3.6" fill="#8494c2" />
<rect x="8.6" y="30.4" width="5.4" height="2.6" fill="#6a5a3c" />
<rect x="16.8" y="29.8" width="16.4" height="4.6" fill="#eef2f6" />
<rect x="22.4" y="30.4" width="3.6" height="3" fill="#b6c6da" />
<rect x="45.2" y="29.8" width="8" height="4.6" fill="#e8eef6" />
<rect x="1.3" y="35.6" width="53.8" height="2.3" fill="#123256" />
<rect x="13" y="35.9" width="5.2" height="1.5" fill="#5aa0d8" />
<rect x="3" y="36.2" width="6" height="0.8" fill="#6f8cb0" />
<rect x="22" y="36.2" width="10" height="0.8" fill="#4e6e96" />
<path d="M35.2,19.6 Q36.6,17.4 38,19.4 L39.4,27.6 L42.4,30.2 L43.8,27.8 Q45,26.8 46,28 L47.4,31.4 Q50.2,32 51.2,35.4 L51.8,42 L34.6,42 L34.6,31 Z" fill="#b5a594" />
<path d="M36,20.4 Q36.7,19 37.4,20.4 L38.4,28 L36,28 Z" fill="#d2c6b8" />
<path d="M39.6,30 L42,32.4 L42,42 L39.6,42 Z" fill="#9a8a7a" />
<path d="M44.4,30 L46,29 L47,33 L45,34 Z" fill="#d6cabc" />
</g>
<text x="678.2" y="345.83" font-size="9.56" font-weight="bold" textLength="34.4" lengthAdjust="spacingAndGlyphs">控制系统</text>
<g transform="translate(616 364.1) scale(1 1)">
<rect x="0" y="0" width="162" height="34.2" fill="url(#rackg)" rx="0.8"/>
<path d="M7,11.7 L57.6,11.7 L65.2,5.7 L154.8,5.7 L154.8,26.4 L65.2,26.4 L57.6,20.3 L7,20.3 Z" fill="#33292a" stroke="#74665c" stroke-width="0.55" />
<rect x="0" y="0" width="162" height="0.7" fill="#5a4b42" />
<rect x="0" y="33.4" width="162" height="0.8" fill="#2a2220" />
<rect x="1.3" y="3.3" width="3" height="2.3" fill="#f4f4f4" rx="0.4"/>
<rect x="1.3" y="28.6" width="3" height="2.6" fill="#f4f4f4" rx="0.4"/>
<rect x="157.4" y="3.3" width="3" height="2.3" fill="#f4f4f4" rx="0.4"/>
<rect x="157.4" y="28.6" width="3" height="2.6" fill="#f4f4f4" rx="0.4"/>
<rect x="16.2" y="4.4" width="15" height="3.6" fill="#1c1615" />
<ellipse cx="15.7" cy="28" rx="2.6" ry="2.7" fill="#dfe4ee" />
<ellipse cx="15.9" cy="28.2" rx="0.9" ry="1.1" fill="#7f93c8" />
<rect x="97.4" y="7.1" width="24" height="17.9" fill="#8c837c" />
<rect x="98" y="7.6" width="22.8" height="3.2" fill="#7d7670" />
<rect x="100" y="10.8" width="19" height="1.2" fill="#f0ece6" />
<rect x="101.5" y="12.2" width="16" height="0.9" fill="#c9b7a6" />
<rect x="98" y="13.3" width="22.8" height="5" fill="#9a5a36" />
<rect x="100" y="14.2" width="18.6" height="1.6" fill="#b57244" />
<rect x="98" y="18.3" width="22.8" height="4.1" fill="#2c1e18" />
<rect x="101" y="18.8" width="4.2" height="1.4" fill="#6a3a24" />
<rect x="108" y="18.8" width="5" height="1.4" fill="#5a3020" />
<rect x="115" y="19" width="3.6" height="1.2" fill="#6a3a24" />
<rect x="98" y="22.4" width="22.8" height="2.2" fill="#4a3c36" />
<rect x="104.6" y="23.2" width="9" height="0.9" fill="#8c8a88" />
<rect x="99.5" y="30" width="1.1" height="0.9" fill="#d9d4ce" />
<rect x="101.6" y="30" width="1.1" height="0.9" fill="#a9a19a" />
<rect x="103.7" y="30" width="1.1" height="0.9" fill="#a9a19a" />
<rect x="105.8" y="30" width="1.1" height="0.9" fill="#d9d4ce" />
<rect x="107.9" y="30" width="1.1" height="0.9" fill="#a9a19a" />
<rect x="110" y="30" width="1.1" height="0.9" fill="#a9a19a" />
<rect x="112.1" y="30" width="1.1" height="0.9" fill="#d9d4ce" />
<rect x="114.2" y="30" width="1.1" height="0.9" fill="#a9a19a" />
<rect x="116.3" y="30" width="1.1" height="0.9" fill="#a9a19a" />
<rect x="118.4" y="30" width="1.1" height="0.9" fill="#d9d4ce" />
<rect x="120.5" y="30" width="1.1" height="0.9" fill="#a9a19a" />
<rect x="122.6" y="30" width="1.1" height="0.9" fill="#a9a19a" />
<rect x="124.7" y="30" width="1.1" height="0.9" fill="#d9d4ce" />
<rect x="126.8" y="30" width="1.1" height="0.9" fill="#a9a19a" />
<rect x="129.8" y="29.4" width="4.8" height="1.3" fill="#f1f1f1" />
<rect x="139.8" y="29.4" width="4.8" height="1.3" fill="#f1f1f1" />
<rect x="135.6" y="30.2" width="3.2" height="0.8" fill="#8a827c" />
<rect x="145.4" y="30.2" width="3.6" height="0.8" fill="#8a827c" />
</g>
<g transform="translate(624 401) scale(1 1.01)">
<rect x="0" y="0" width="147.6" height="33.2" fill="#c9c9c9" />
<rect x="0" y="0" width="1.1" height="33.2" fill="#101010" />
<rect x="1.1" y="0" width="146.5" height="0.7" fill="#8d8d8d" />
<rect x="146.6" y="0" width="1" height="33.2" fill="#9a9a9a" />
<rect x="1.1" y="0.7" width="3.4" height="32" fill="#dcdcdc" />
<rect x="1.8" y="3.2" width="1.2" height="2.2" fill="#8e8e8e" />
<rect x="1.8" y="11.6" width="1.2" height="2.2" fill="#8e8e8e" />
<rect x="1.8" y="20.4" width="1.2" height="2.2" fill="#8e8e8e" />
<rect x="1.8" y="28.6" width="1.2" height="2.2" fill="#8e8e8e" />
<rect x="4.6" y="1.2" width="139.4" height="5.4" fill="#d3d3d3" stroke="#9c9c9c" stroke-width="0.4"/>
<rect x="12.6" y="2.9" width="48.4" height="2.7" fill="#9bcf1c" />
<rect x="14.8" y="3.3" width="0.6" height="1.9" fill="#7eb010" />
<rect x="17.8" y="3.3" width="0.6" height="1.9" fill="#7eb010" />
<rect x="20.8" y="3.3" width="0.6" height="1.9" fill="#7eb010" />
<rect x="23.8" y="3.3" width="0.6" height="1.9" fill="#7eb010" />
<rect x="26.8" y="3.3" width="0.6" height="1.9" fill="#7eb010" />
<rect x="29.8" y="3.3" width="0.6" height="1.9" fill="#7eb010" />
<rect x="32.8" y="3.3" width="0.6" height="1.9" fill="#7eb010" />
<rect x="35.8" y="3.3" width="0.6" height="1.9" fill="#7eb010" />
<rect x="38.8" y="3.3" width="0.6" height="1.9" fill="#7eb010" />
<rect x="41.8" y="3.3" width="0.6" height="1.9" fill="#7eb010" />
<rect x="44.8" y="3.3" width="0.6" height="1.9" fill="#7eb010" />
<rect x="47.8" y="3.3" width="0.6" height="1.9" fill="#7eb010" />
<rect x="50.8" y="3.3" width="0.6" height="1.9" fill="#7eb010" />
<rect x="53.8" y="3.3" width="0.6" height="1.9" fill="#7eb010" />
<rect x="56.8" y="3.3" width="0.6" height="1.9" fill="#7eb010" />
<rect x="59.8" y="3.3" width="0.6" height="1.9" fill="#7eb010" />
<rect x="66.6" y="2.9" width="24.4" height="2.7" fill="#9bcf1c" />
<rect x="68.4" y="3.3" width="0.6" height="1.9" fill="#7eb010" />
<rect x="71.4" y="3.3" width="0.6" height="1.9" fill="#7eb010" />
<rect x="74.4" y="3.3" width="0.6" height="1.9" fill="#7eb010" />
<rect x="77.4" y="3.3" width="0.6" height="1.9" fill="#7eb010" />
<rect x="80.4" y="3.3" width="0.6" height="1.9" fill="#7eb010" />
<rect x="83.4" y="3.3" width="0.6" height="1.9" fill="#7eb010" />
<rect x="86.4" y="3.3" width="0.6" height="1.9" fill="#7eb010" />
<rect x="89.4" y="3.3" width="0.6" height="1.9" fill="#7eb010" />
<rect x="93.2" y="2.9" width="15.8" height="2.7" fill="#0a0a0a" />
<rect x="4.2" y="6.5" width="57.4" height="1.1" fill="#0e0e0e" />
<rect x="4.2" y="14.6" width="57.4" height="1.1" fill="#0e0e0e" />
<rect x="4.2" y="23.1" width="57.4" height="1.1" fill="#0e0e0e" />
<rect x="4.2" y="31.8" width="57.4" height="1.4" fill="#0e0e0e" />
<rect x="4.6" y="7.8" width="57" height="6.6" fill="#dedede" />
<rect x="6.7" y="9.9" width="3.8" height="2.8" fill="#fafafa" stroke="#777" stroke-width="0.6"/>
<rect x="13.65" y="9.9" width="3.8" height="2.8" fill="#fafafa" stroke="#777" stroke-width="0.6"/>
<rect x="20.6" y="9.9" width="3.8" height="2.8" fill="#fafafa" stroke="#777" stroke-width="0.6"/>
<rect x="27.55" y="9.9" width="3.8" height="2.8" fill="#fafafa" stroke="#777" stroke-width="0.6"/>
<rect x="34.5" y="9.9" width="3.8" height="2.8" fill="#fafafa" stroke="#777" stroke-width="0.6"/>
<rect x="41.45" y="9.9" width="3.8" height="2.8" fill="#fafafa" stroke="#777" stroke-width="0.6"/>
<rect x="48.4" y="9.9" width="3.8" height="2.8" fill="#fafafa" stroke="#777" stroke-width="0.6"/>
<rect x="55.35" y="9.9" width="3.8" height="2.8" fill="#fafafa" stroke="#777" stroke-width="0.6"/>
<rect x="4.6" y="16" width="57" height="7" fill="#dadada" />
<rect x="18.2" y="17.2" width="2.7" height="4.7" fill="#1c5a2a" />
<rect x="18.8" y="17.8" width="1.5" height="1.4" fill="#39a04a" />
<rect x="18.8" y="20" width="1.5" height="1.4" fill="#39a04a" />
<rect x="9.2" y="20.4" width="3.6" height="1.2" fill="#222" />
<rect x="13.2" y="20.8" width="1.1" height="0.9" fill="#222" />
<rect x="25.4" y="20.2" width="4.6" height="1.1" fill="#444" />
<rect x="34.2" y="19.6" width="2.8" height="2.2" fill="#555" />
<rect x="35" y="17.2" width="1.2" height="1.6" fill="#888" />
<rect x="41.1" y="19.6" width="2.8" height="2.2" fill="#555" />
<rect x="41.9" y="17.2" width="1.2" height="1.6" fill="#888" />
<rect x="48" y="19.6" width="2.8" height="2.2" fill="#555" />
<rect x="48.8" y="17.2" width="1.2" height="1.6" fill="#888" />
<rect x="54.9" y="19.6" width="2.8" height="2.2" fill="#555" />
<rect x="55.7" y="17.2" width="1.2" height="1.6" fill="#888" />
<rect x="17.6" y="24.4" width="4" height="0.7" fill="#3aa050" />
<rect x="4.6" y="24.6" width="57" height="6.8" fill="#d6d6d6" />
<rect x="6.6" y="27" width="11.4" height="2.4" fill="#fbfbfb" rx="0.8"/>
<rect x="9.2" y="27.7" width="6.4" height="1" fill="#8a8a8a" />
<rect x="20.6" y="27" width="11.4" height="2.4" fill="#fbfbfb" rx="0.8"/>
<rect x="23.2" y="27.7" width="6.4" height="1" fill="#8a8a8a" />
<rect x="34.6" y="27" width="11.4" height="2.4" fill="#fbfbfb" rx="0.8"/>
<rect x="37.2" y="27.7" width="6.4" height="1" fill="#8a8a8a" />
<rect x="48.6" y="27" width="11.4" height="2.4" fill="#fbfbfb" rx="0.8"/>
<rect x="51.2" y="27.7" width="6.4" height="1" fill="#8a8a8a" />
<rect x="62.4" y="7" width="1.4" height="25.4" fill="#b4b4b4" />
<rect x="63.2" y="9.6" width="2.2" height="3.6" fill="#e6e6e6" />
<rect x="63.2" y="18" width="2.2" height="3.6" fill="#e6e6e6" />
<rect x="63.4" y="26" width="2" height="3.4" fill="#e6e6e6" />
<rect x="66.4" y="7.6" width="60.2" height="6.8" fill="#d2d2d2" />
<rect x="66.4" y="16.2" width="60.2" height="6.6" fill="#d2d2d2" />
<rect x="66.4" y="24.6" width="60.2" height="7.2" fill="#d6d6d6" />
<rect x="68.8" y="14.7" width="57" height="1.3" fill="#0e0e0e" />
<rect x="68.8" y="23.1" width="57" height="1.3" fill="#0e0e0e" />
<rect x="66" y="6.6" width="62" height="0.7" fill="#777" />
<rect x="72.4" y="9.8" width="10.2" height="2.8" fill="#f6f6f6" rx="0.8"/>
<rect x="75.6" y="10.4" width="3.6" height="1.5" fill="#a8a8a8" />
<rect x="72.4" y="18.4" width="10.2" height="2.9" fill="#ffffff" rx="0.8"/>
<rect x="75.6" y="19.1" width="3.8" height="1.4" fill="#b8b8b8" />
<rect x="86.4" y="9.8" width="10.2" height="2.8" fill="#f6f6f6" rx="0.8"/>
<rect x="89.6" y="10.4" width="3.6" height="1.5" fill="#a8a8a8" />
<rect x="86.4" y="18.4" width="10.2" height="2.9" fill="#ffffff" rx="0.8"/>
<rect x="89.6" y="19.1" width="3.8" height="1.4" fill="#b8b8b8" />
<rect x="100.4" y="9.8" width="10.2" height="2.8" fill="#f6f6f6" rx="0.8"/>
<rect x="103.6" y="10.4" width="3.6" height="1.5" fill="#a8a8a8" />
<rect x="100.4" y="18.4" width="10.2" height="2.9" fill="#ffffff" rx="0.8"/>
<rect x="103.6" y="19.1" width="3.8" height="1.4" fill="#b8b8b8" />
<rect x="114.4" y="9.8" width="10.2" height="2.8" fill="#f6f6f6" rx="0.8"/>
<rect x="117.6" y="10.4" width="3.6" height="1.5" fill="#a8a8a8" />
<rect x="114.4" y="18.4" width="10.2" height="2.9" fill="#ffffff" rx="0.8"/>
<rect x="117.6" y="19.1" width="3.8" height="1.4" fill="#b8b8b8" />
<rect x="71.8" y="25.8" width="5.2" height="4.4" fill="#0c0c0c" />
<rect x="72.2" y="25.4" width="1.4" height="1" fill="#d8d020" />
<rect x="78.2" y="25.4" width="44.8" height="3.6" fill="#96cc1a" />
<rect x="82.6" y="25.4" width="1.1" height="3.6" fill="#5e8e10" />
<rect x="87.9" y="25.4" width="1.1" height="3.6" fill="#5e8e10" />
<rect x="93.2" y="25.4" width="1.1" height="3.6" fill="#5e8e10" />
<rect x="98.5" y="25.4" width="1.1" height="3.6" fill="#5e8e10" />
<rect x="103.8" y="25.4" width="1.1" height="3.6" fill="#5e8e10" />
<rect x="109.1" y="25.4" width="1.1" height="3.6" fill="#5e8e10" />
<rect x="114.4" y="25.4" width="1.1" height="3.6" fill="#5e8e10" />
<rect x="119.7" y="25.4" width="1.1" height="3.6" fill="#5e8e10" />
<rect x="79.6" y="30.2" width="3.4" height="0.8" fill="#7a7a7a" />
<rect x="85.9" y="30.2" width="3.4" height="0.8" fill="#7a7a7a" />
<rect x="92.2" y="30.2" width="3.4" height="0.8" fill="#7a7a7a" />
<rect x="98.5" y="30.2" width="3.4" height="0.8" fill="#7a7a7a" />
<rect x="104.8" y="30.2" width="3.4" height="0.8" fill="#7a7a7a" />
<rect x="111.1" y="30.2" width="3.4" height="0.8" fill="#7a7a7a" />
<rect x="117.4" y="30.2" width="3.4" height="0.8" fill="#7a7a7a" />
<rect x="129" y="8.2" width="1.2" height="24.6" fill="#3a3a3a" />
<rect x="130.2" y="7.4" width="16.4" height="25.4" fill="#c4c4c4" />
<rect x="136.2" y="9.6" width="5.4" height="4.3" fill="#101010" />
<rect x="137.2" y="9" width="3" height="0.9" fill="#4a6a3a" />
<rect x="135.4" y="15.6" width="7" height="0.9" fill="#555" />
<rect x="133.6" y="18.8" width="8.6" height="7" fill="#0c0c0c" />
<rect x="135.6" y="20.6" width="4.6" height="3" fill="#4a4a4a" />
<rect x="134.6" y="27.2" width="6.6" height="0.8" fill="#666" />
<rect x="138" y="29.4" width="1.6" height="2" fill="#f0f0f0" />
<rect x="141.6" y="29" width="1.4" height="2.6" fill="#eee" />
<rect x="144.8" y="2" width="1.6" height="4" fill="#e2e2e2" />
<rect x="0.4" y="0.4" width="146.8" height="32.4" fill="none" stroke="#1c1c1c" stroke-width="0.9"/>
</g>
<text x="678.83" y="507.8" font-size="6.67" textLength="26" lengthAdjust="spacingAndGlyphs" opacity="0.8">AS-J14</text>
<text x="667.26" y="534.96" font-size="10.67" font-weight="bold" textLength="47.8" lengthAdjust="spacingAndGlyphs">303会议室</text>
<line x1="779.4" y1="272.7" x2="779.4" y2="348.1" stroke="#adadad" stroke-width="0.9" stroke-dasharray="4.7 2.0" />
<g transform="translate(808.2 286.9)">
<rect x="15.4" y="0.1" width="7.6" height="15.6" fill="#0c0c0c" />
<rect x="16.2" y="0.6" width="1.5" height="14.6" fill="#8d8d8d" />
<rect x="21.6" y="0.6" width="0.9" height="14.6" fill="#3c3c3c" />
<polygon points="13.2,15.2 23.2,14.6 23.4,16.2 16,17.8 13.2,16.6" fill="#1b1b1b" />
<rect x="17" y="15.6" width="4" height="1.4" fill="#d8d8d8" />
<polygon points="4.6,4.4 9.4,3.8 10,5.8 5,6.6" fill="#2c2f33" />
<polygon points="1.8,6.6 11.2,6 12,8 6,9.4 1.4,8.2" fill="#3d4146" />
<rect x="5.6" y="8.6" width="3" height="1.8" fill="#25272a" />
<polygon points="0.2,15.6 5.6,11.6 12.4,11.6 17.4,15.4 15,17 2.4,17" fill="#34363a" />
<polygon points="4.2,14.4 6.6,12.2 11.4,12.2 13.4,14.4" fill="#6f7378" />
<ellipse cx="8.8" cy="12.8" rx="2.6" ry="1.2" fill="#7a3434" />
</g>
<g transform="translate(838.6 285)">
<rect x="11.6" y="0.1" width="1.6" height="2.2" fill="#16171a" />
<rect x="2.2" y="1.8" width="17.2" height="15.8" fill="#2a2c30" />
<rect x="2.2" y="1.8" width="4.6" height="15.8" fill="#5e6166" />
<rect x="3.2" y="2.6" width="2" height="13" fill="#44474c" />
<rect x="7.2" y="2.8" width="11" height="8.4" fill="#e9e9ea" />
<rect x="7.2" y="2.8" width="3.2" height="8.4" fill="#cfd6de" />
<polygon points="12,3.2 14.2,3 15.2,11.2 11.2,11.2" fill="#b0382c" />
<rect x="12.2" y="3" width="1.8" height="2.2" fill="#3a2a24" />
<rect x="15.4" y="6.2" width="2.4" height="5" fill="#c9a48a" />
<rect x="7" y="11.4" width="12.4" height="6.2" fill="#1d1e22" />
<rect x="8" y="12.6" width="10.4" height="0.8" fill="#4a4c52" />
<rect x="0.1" y="16.6" width="4.2" height="2.8" fill="#111" />
<rect x="0.8" y="17" width="1.8" height="1" fill="#e5e5e5" />
</g>
<g transform="translate(865 289.8)">
<rect x="0" y="0" width="22" height="11.2" fill="#0b0b0d" rx="1.6"/>
<rect x="3.4" y="0.8" width="15.2" height="9.6" fill="#e8e6e2" />
<rect x="3.4" y="0.8" width="3.8" height="3.8" fill="#d9d3c4" />
<rect x="7.6" y="1" width="2.6" height="3.4" fill="#4c3a30" />
<rect x="10.6" y="0.8" width="3.4" height="3.8" fill="#f4f2ee" />
<rect x="14.2" y="1" width="3.8" height="3.6" fill="#c9934e" />
<rect x="3.4" y="4.6" width="15.2" height="1.5" fill="#1f62c6" />
<rect x="3.4" y="6.1" width="3.4" height="4.3" fill="#cfc3b0" />
<rect x="7.2" y="6.4" width="2.4" height="3.8" fill="#6a4a38" />
<rect x="10" y="6.1" width="4" height="4.3" fill="#f1efea" />
<rect x="14.4" y="6.3" width="3.8" height="4" fill="#c4a070" />
<rect x="19.4" y="3.4" width="1.2" height="1" fill="#b78a1e" />
<rect x="19.4" y="6.4" width="1.2" height="1.2" fill="#a2801c" />
<rect x="1" y="4.2" width="1.2" height="2.8" fill="#2a2c34" />
</g>
<text x="821.9" y="324.37" font-size="7.11" textLength="50.9" lengthAdjust="spacingAndGlyphs" opacity="0.86">远程视频会议终端</text>
<line x1="795" y1="299.4" x2="800.2" y2="299.4" stroke="#6a3fc0" stroke-width="1.2" />
<line x1="794.6" y1="299.4" x2="794.6" y2="334" stroke="#dcd6ea" stroke-width="0.9" />
<line x1="794.6" y1="350" x2="794.6" y2="384" stroke="#dcd6ea" stroke-width="0.9" />
<text x="789.59" y="340.28" font-size="5.33" textLength="9" lengthAdjust="spacingAndGlyphs" opacity="0.86">SIP</text>
<text x="788.1" y="348.07" font-size="5.56" textLength="13.5" lengthAdjust="spacingAndGlyphs" opacity="0.86">H323</text>
<line x1="802.8" y1="342.3" x2="891.4" y2="342.3" stroke="#8e8e8e" stroke-width="0.9" stroke-dasharray="3.6 1.8" />
<line x1="801.2" y1="349.2" x2="891.4" y2="349.2" stroke="#dedede" stroke-width="0.9" stroke-dasharray="3.6 1.7" />
<line x1="891.6" y1="349.2" x2="891.6" y2="517.3" stroke="#adadad" stroke-width="0.9" stroke-dasharray="4.2 2.2" />
<line x1="800.7" y1="517.3" x2="891.6" y2="517.3" stroke="#bdbdbd" stroke-width="0.9" stroke-dasharray="3.6 1.7" />
<g transform="translate(853 385.4)">
<polygon points="3.8,0 28.8,0 30.2,2.1 2.4,2.1" fill="#0a0a0a" />
<rect x="1.1" y="2" width="31" height="7.8" fill="#7f8e94" />
<rect x="1.1" y="2" width="2.2" height="7.8" fill="#a9b2b4" />
<rect x="29.9" y="2" width="2.2" height="7.8" fill="#a4adb0" />
<rect x="3.4" y="2.8" width="26.4" height="6.2" fill="#5a6970" />
<rect x="4.2" y="3.4" width="9.6" height="4.8" fill="#39464c" />
<rect x="14.1" y="5.3" width="4" height="1.8" fill="#1b339c" />
<rect x="19.6" y="5.6" width="1.1" height="1.3" fill="#1e2226" />
<rect x="22" y="5.6" width="1.1" height="1.3" fill="#1e2226" />
<rect x="24.4" y="5.6" width="1.1" height="1.3" fill="#1e2226" />
<rect x="26.6" y="5.2" width="2" height="2" fill="#20262a" />
<rect x="4" y="3" width="25" height="0.7" fill="#9aa6aa" />
<rect x="1.8" y="9.7" width="29.6" height="10.4" fill="#1d2c27" />
<rect x="1.8" y="9.7" width="29.6" height="1.4" fill="#30403a" />
<rect x="2.6" y="12" width="28" height="2.8" fill="#15211d" />
<rect x="4.2" y="16.3" width="3.2" height="1.2" fill="#e8e060" />
<rect x="8.8" y="16.6" width="0.8" height="0.8" fill="#5a6a60" />
<rect x="11.1" y="16.6" width="0.8" height="0.8" fill="#5a6a60" />
<rect x="13.4" y="16.6" width="0.8" height="0.8" fill="#5a6a60" />
<rect x="15.7" y="16.6" width="0.8" height="0.8" fill="#5a6a60" />
<rect x="18" y="16.6" width="0.8" height="0.8" fill="#5a6a60" />
<rect x="20.3" y="16.6" width="0.8" height="0.8" fill="#5a6a60" />
<rect x="21.2" y="16.2" width="1.4" height="1.6" fill="#f2f2f2" />
<rect x="22.6" y="17" width="2.2" height="0.9" fill="#e6e6e6" />
<rect x="25" y="16" width="1.4" height="1.4" fill="#d8d8d8" />
<rect x="3.6" y="20.1" width="2.2" height="1" fill="#0a0a0a" />
<rect x="27.2" y="20.1" width="2.2" height="1" fill="#0a0a0a" />
<rect x="0" y="22.3" width="33.2" height="2.9" fill="#0c0c0c" />
<rect x="20" y="23.2" width="11" height="0.7" fill="#4a4a4a" />
</g>
<line x1="802.98" y1="394.5" x2="805.7" y2="394.5" stroke="#14a64a" stroke-width="1.25" />
<line x1="844.7" y1="394.5" x2="852" y2="394.5" stroke="#14a64a" stroke-width="1.25" />
<text x="806" y="396.73" font-size="6.22" textLength="38.2" lengthAdjust="spacingAndGlyphs" opacity="0.92">无线麦克主机</text>
<polygon points="799.6,394.5 804.9,392.9 804.9,396.1" fill="#14a64a" />
<g transform="translate(840.9 441.6) rotate(-0.6)">
<rect x="0" y="0" width="41.4" height="7.2" fill="#0b0b0d" rx="0.5"/>
<rect x="1.4" y="1" width="38.6" height="0.6" fill="#3a3a42" />
<rect x="3.6" y="2.2" width="4.2" height="1.6" fill="#6a6e78" />
<rect x="9.2" y="2" width="2.6" height="1.2" fill="#8890a0" />
<rect x="13.4" y="2" width="8.4" height="2.2" fill="#22389e" />
<rect x="14.2" y="2.4" width="4" height="0.9" fill="#6f86d8" />
<rect x="23.6" y="2.4" width="3.4" height="1.4" fill="#27398c" />
<rect x="28.2" y="2.2" width="5.4" height="1.4" fill="#242f7a" />
<rect x="34.6" y="2.4" width="2.4" height="1.2" fill="#5a60a0" />
<rect x="38.2" y="1.6" width="1.6" height="1.4" fill="#b03030" />
<rect x="3" y="5.2" width="1.4" height="0.8" fill="#4a4c58" />
<rect x="6.1" y="5.2" width="1.4" height="0.8" fill="#4a4c58" />
<rect x="9.2" y="5.2" width="1.4" height="0.8" fill="#4a4c58" />
<rect x="12.3" y="5.2" width="1.4" height="0.8" fill="#4a4c58" />
<rect x="15.4" y="5.2" width="1.4" height="0.8" fill="#4a4c58" />
<rect x="18.5" y="5.2" width="1.4" height="0.8" fill="#4a4c58" />
<rect x="21.6" y="5.2" width="1.4" height="0.8" fill="#4a4c58" />
<rect x="24.7" y="5.2" width="1.4" height="0.8" fill="#4a4c58" />
<rect x="27.8" y="5.2" width="1.4" height="0.8" fill="#4a4c58" />
<rect x="30.9" y="5.2" width="1.4" height="0.8" fill="#4a4c58" />
<rect x="34" y="5.2" width="1.4" height="0.8" fill="#4a4c58" />
<rect x="37.1" y="5.2" width="1.4" height="0.8" fill="#4a4c58" />
</g>
<line x1="800.9" y1="445.8" x2="814.1" y2="445.8" stroke="#14a64a" stroke-width="1.7" />
<line x1="827.3" y1="445.8" x2="837.88" y2="445.8" stroke="#14a64a" stroke-width="1.7" />
<text x="814.4" y="448.03" font-size="6.22" textLength="12.4" lengthAdjust="spacingAndGlyphs" opacity="0.75">音频</text>
<polygon points="840.9,445.8 836.2,444.2 836.2,447.4" fill="#14a64a" />
<g transform="translate(842.8 467.6) scale(1.06 1.01)">
<polygon points="0.3,0.8 8.6,0 10.2,0.5 10.2,16.2 8.4,17 0.3,16.2" fill="#9aa1aa" />
<polygon points="8.6,0 10.2,0.5 10.2,16.2 8.4,17" fill="#d4d7db" />
<rect x="1.2" y="1.8" width="6.6" height="13.6" fill="#a7aeb8" />
<rect x="0.3" y="0.8" width="0.9" height="15.4" fill="#858c96" />
<rect x="0.8" y="15.8" width="8" height="0.9" fill="#c9ccd0" />
</g>
<g transform="translate(873.8 468.8) scale(1 1.05)">
<polygon points="0.3,0.8 8.6,0 10.2,0.5 10.2,16.2 8.4,17 0.3,16.2" fill="#9aa1aa" />
<polygon points="8.6,0 10.2,0.5 10.2,16.2 8.4,17" fill="#d4d7db" />
<rect x="1.2" y="1.8" width="6.6" height="13.6" fill="#a7aeb8" />
<rect x="0.3" y="0.8" width="0.9" height="15.4" fill="#858c96" />
<rect x="0.8" y="15.8" width="8" height="0.9" fill="#c9ccd0" />
</g>
<text x="857.2" y="483.63" font-size="6.22" textLength="10.9" lengthAdjust="spacingAndGlyphs" opacity="0.86">音箱</text>
<text x="830.8" y="514.48" font-size="8.67" textLength="32.2" lengthAdjust="spacingAndGlyphs" opacity="0.8">音频系统</text></svg></body></html>
